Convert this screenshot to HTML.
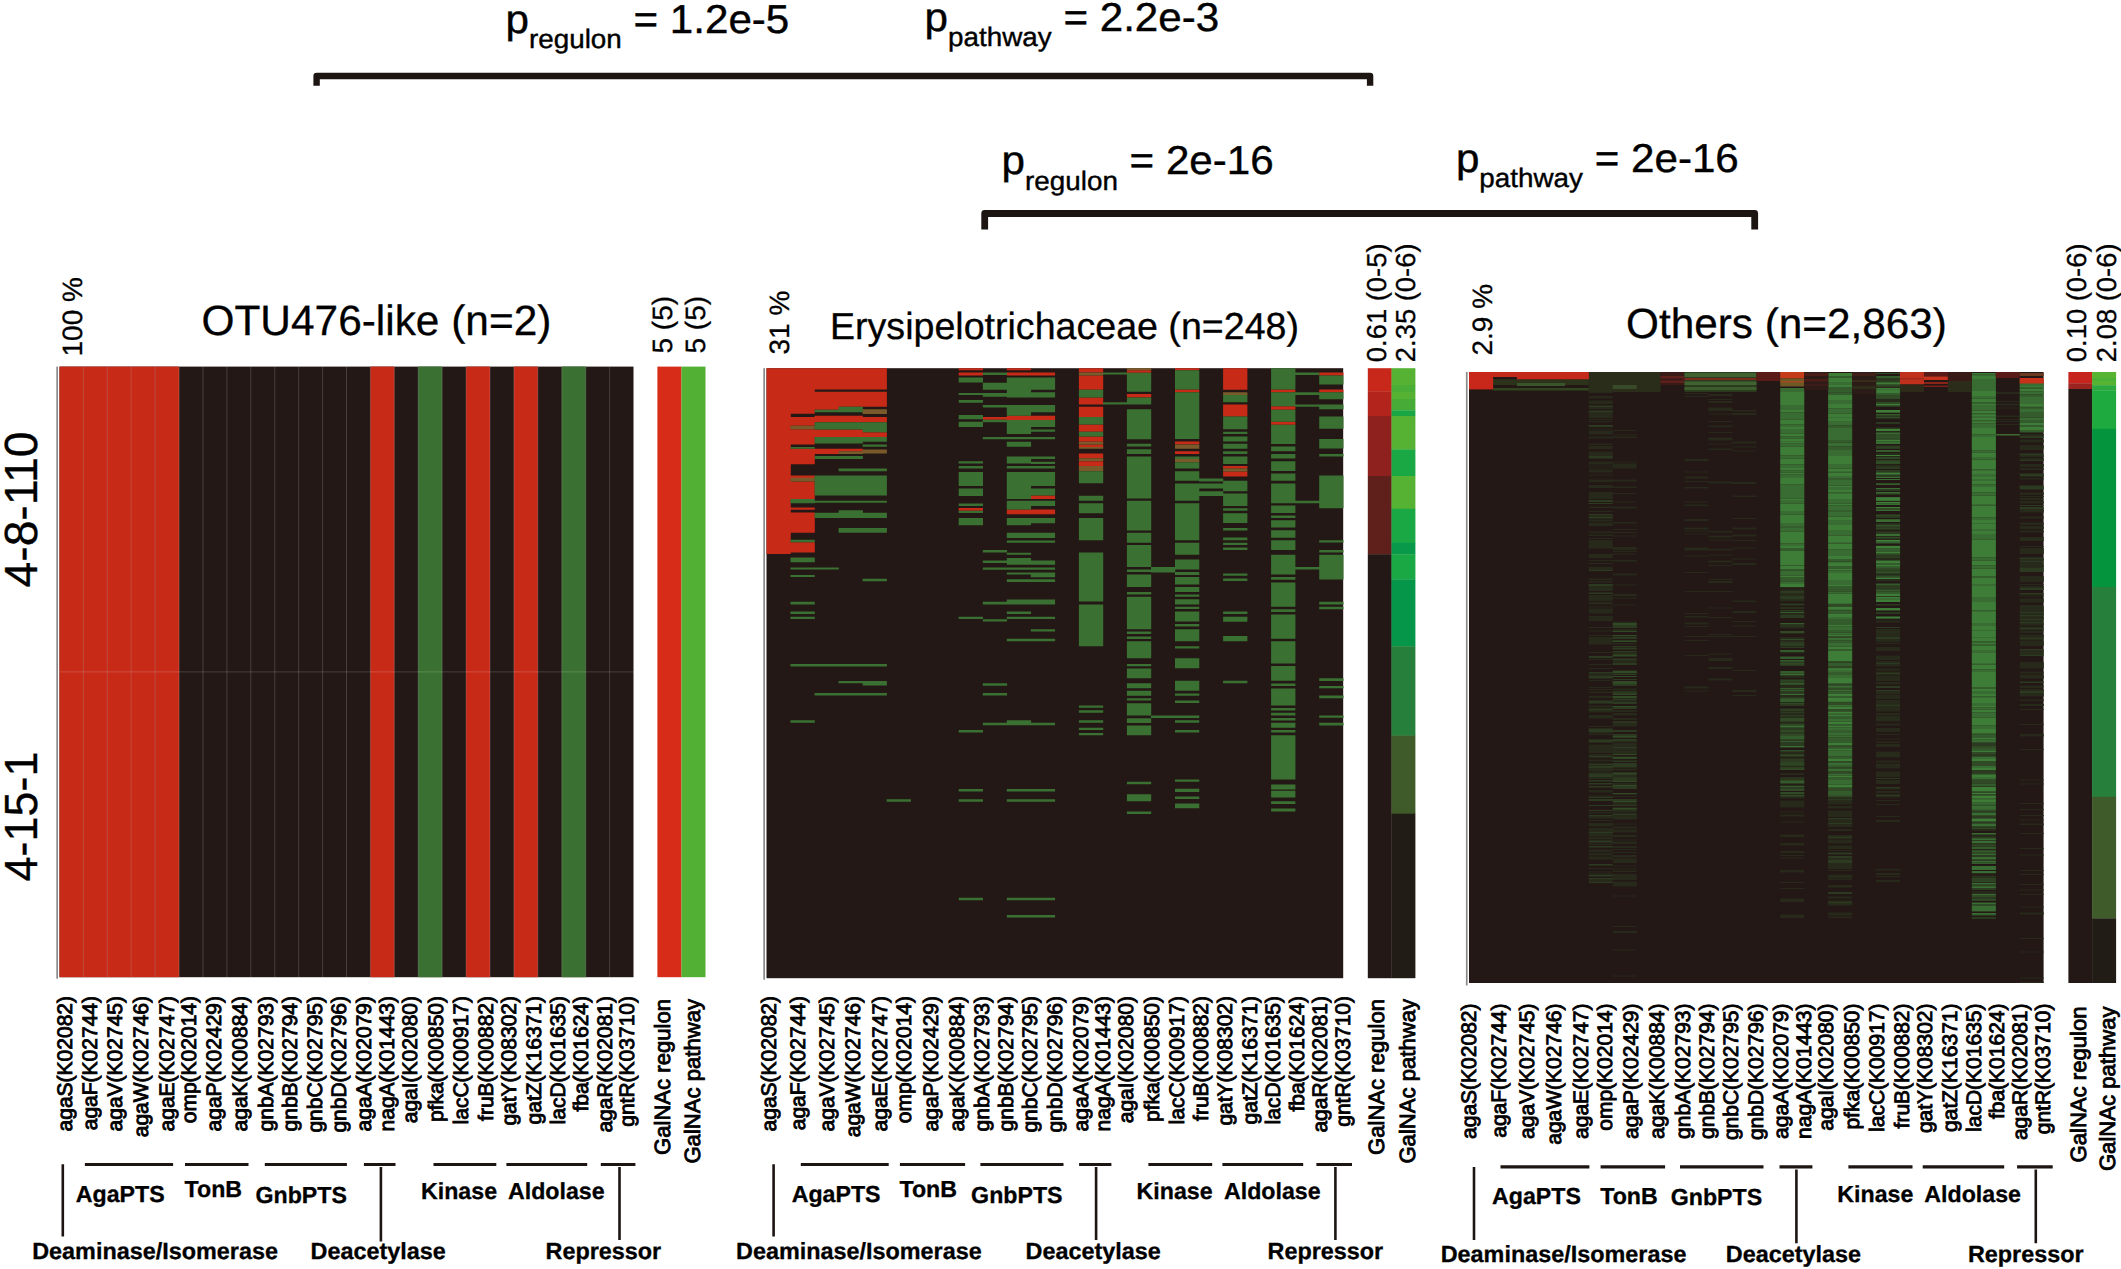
<!DOCTYPE html>
<html lang="en"><head><meta charset="utf-8"><title>GalNAc regulon and pathway heatmaps</title>
<style>
html,body{margin:0;padding:0;background:#fff}
body{width:2121px;height:1269px;overflow:hidden}
svg{display:block}
svg text{font-family:'Liberation Sans', sans-serif;fill:#000;stroke:#000;stroke-width:.3px}
svg .gl text{stroke-width:.85px}
svg text.pv{stroke-width:.4px}
</style></head><body>
<svg width="2121" height="1269" viewBox="0 0 2121 1269" text-rendering="geometricPrecision">
<rect width="2121" height="1269" fill="#fff"/>
<text transform="translate(505.5 32.5) scale(1.046 1)" font-size="40.3" class="pv">p<tspan font-size="26.6" dy="15.6">regulon</tspan><tspan dy="-15.6"> = 1.2e-5</tspan></text>
<text transform="translate(924.6 31.1) scale(1.046 1)" font-size="40.3" class="pv">p<tspan font-size="26.6" dy="15.1">pathway</tspan><tspan dy="-15.1"> = 2.2e-3</tspan></text>
<text transform="translate(1001.6 174.3) scale(1.046 1)" font-size="40.3" class="pv">p<tspan font-size="26.6" dy="15.7">regulon</tspan><tspan dy="-15.7"> = 2e-16</tspan></text>
<text transform="translate(1455.9 171.5) scale(1.046 1)" font-size="40.3" class="pv">p<tspan font-size="26.6" dy="15.1">pathway</tspan><tspan dy="-15.1"> = 2e-16</tspan></text>
<path d="M316.6 85.7V76H1370.1V85.7" fill="none" stroke="#1d1512" stroke-width="6.4" stroke-linejoin="round"/>
<path d="M984.7 229.6V213.5H1754.7V229.6" fill="none" stroke="#1d1512" stroke-width="6.8" stroke-linejoin="round"/>
<text x="201.5" y="335" font-size="42.4">OTU476-like (n=2)</text>
<text x="830" y="339" font-size="37.6">Erysipelotrichaceae (n=248)</text>
<text x="1626" y="337.5" font-size="42.3">Others (n=2,863)</text>
<text transform="translate(81.9 356.5) rotate(-90)" font-size="28">100 %</text>
<text transform="translate(788.6 354.5) rotate(-90)" font-size="28">31 %</text>
<text transform="translate(1491.9 355.5) rotate(-90)" font-size="28">2.9 %</text>
<text transform="translate(671.8 353.5) rotate(-90)" font-size="28">5 (5)</text>
<text transform="translate(704.8 353.5) rotate(-90)" font-size="28">5 (5)</text>
<text transform="translate(1385.7 362.2) rotate(-90)" font-size="27.4">0.61 (0-5)</text>
<text transform="translate(1415.1 362.2) rotate(-90)" font-size="27.4">2.35 (0-6)</text>
<text transform="translate(2086.2 362.2) rotate(-90)" font-size="27.4">0.10 (0-6)</text>
<text transform="translate(2115.6 362.2) rotate(-90)" font-size="27.4">2.08 (0-6)</text>
<text transform="translate(36.8 587.5) rotate(-90)" font-size="46.5" textLength="156" lengthAdjust="spacingAndGlyphs">4-8-110</text>
<text transform="translate(36.8 881.5) rotate(-90)" font-size="46.5" textLength="130" lengthAdjust="spacingAndGlyphs">4-15-1</text>
<rect x="59.5" y="366.6" width="574" height="610.6" fill="#231815"/>
<rect x="59.5" y="366.6" width="24.2" height="610.6" fill="#c82a18"/>
<rect x="83.4" y="366.6" width="24.2" height="610.6" fill="#c82a18"/>
<rect x="107.3" y="366.6" width="24.2" height="610.6" fill="#c82a18"/>
<rect x="131.2" y="366.6" width="24.2" height="610.6" fill="#c82a18"/>
<rect x="155.2" y="366.6" width="23.9" height="610.6" fill="#c82a18"/>
<rect x="370.4" y="366.6" width="23.9" height="610.6" fill="#c82a18"/>
<rect x="418.2" y="366.6" width="23.9" height="610.6" fill="#3a7031"/>
<rect x="466.1" y="366.6" width="23.9" height="610.6" fill="#c82a18"/>
<rect x="513.9" y="366.6" width="23.9" height="610.6" fill="#c82a18"/>
<rect x="561.8" y="366.6" width="23.9" height="610.6" fill="#3a7031"/>
<path d="M83.4 366.6V977.2M107.3 366.6V977.2M131.2 366.6V977.2M155.2 366.6V977.2M179.1 366.6V977.2M203 366.6V977.2M226.9 366.6V977.2M250.8 366.6V977.2M274.8 366.6V977.2M298.7 366.6V977.2M322.6 366.6V977.2M346.5 366.6V977.2M370.4 366.6V977.2M394.3 366.6V977.2M418.2 366.6V977.2M442.2 366.6V977.2M466.1 366.6V977.2M490 366.6V977.2M513.9 366.6V977.2M537.8 366.6V977.2M561.8 366.6V977.2M585.7 366.6V977.2M609.6 366.6V977.2M59.5 671.9H633.5" stroke="#fff" stroke-opacity=".17" stroke-width="1" fill="none"/>
<rect x="56.3" y="366.6" width="1.7" height="612.1" fill="#8a8a8a"/>
<rect x="657.4" y="366.6" width="24.1" height="610.6" fill="#d62c18"/>
<rect x="681.4" y="366.6" width="24.1" height="610.6" fill="#52b034"/>
<rect x="766.5" y="368.2" width="576.7" height="610" fill="#231815"/>
<path d="M766.5 368.2h24.3v185.9h-24.3zM790.5 368.2h24.3v45.5h-24.3zM790.5 417.1h24.3v8.7h-24.3zM790.5 429.3h24.3v15.1h-24.3zM790.5 448.7h24.3v15.6h-24.3zM790.5 475.6h24.3v2.3h-24.3zM790.5 481.6h24.3v17.3h-24.3zM790.5 507.6h24.3v2.1h-24.3zM790.5 512.5h24.3v20.3h-24.3zM790.5 542.3h24.3v10.1h-24.3zM814.6 368.2h24.3v21.2h-24.3zM814.6 391.8h24.3v17.9h-24.3zM814.6 415.7h24.3v6.6h-24.3zM814.6 429.6h24.3v7.3h-24.3zM814.6 448.7h24.3v5.2h-24.3zM838.6 368.2h24.3v21.2h-24.3zM838.6 391.8h24.3v14.9h-24.3zM838.6 415.7h24.3v6.6h-24.3zM838.6 429.6h24.3v7.3h-24.3zM838.6 448.7h24.3v2.6h-24.3zM862.6 368.2h24.3v21.2h-24.3zM862.6 391.8h24.3v14.9h-24.3zM862.6 417.1h24.3v5.2h-24.3zM862.6 432.2h24.3v4.7h-24.3zM958.7 368.2h24.3v2.1h-24.3zM958.7 372.4h24.3v3.1h-24.3zM958.7 508h24.3v2.8h-24.3zM1006.8 368.2h24.3v2.1h-24.3zM1006.8 372.4h24.3v3.1h-24.3zM1006.8 415.7h24.3v4.3h-24.3zM1006.8 509.4h24.3v4.9h-24.3zM1030.8 372.4h24.3v3.1h-24.3zM1030.8 415.7h24.3v4.3h-24.3zM1030.8 495.5h24.3v3.5h-24.3zM1030.8 509.4h24.3v4.9h-24.3zM982.8 417.1h24.3v2.6h-24.3zM1078.9 368.2h24.3v4.2h-24.3zM1078.9 375.5h24.3v14.2h-24.3zM1078.9 397.5h24.3v6.9h-24.3zM1078.9 406.7h24.3v10.4h-24.3zM1078.9 424.4h24.3v7.3h-24.3zM1078.9 436.5h24.3v5.2h-24.3zM1078.9 444.4h24.3v2.6h-24.3zM1078.9 453.5h24.3v4.7h-24.3zM1078.9 461.2h24.3v4.9h-24.3zM1126.9 370.3h24.3v2.4h-24.3zM1126.9 394.1h24.3v3.5h-24.3zM1175 368.2h24.3v2.1h-24.3zM1175 389.4h24.3v2.9h-24.3zM1175 441.4h24.3v2.9h-24.3zM1175 451.3h24.3v2.6h-24.3zM1271.1 389.4h24.3v2.9h-24.3zM1271.1 406.2h24.3v3.5h-24.3zM1271.1 421.8h24.3v2.9h-24.3zM1223.1 368.2h24.3v21.5h-24.3zM1223.1 404.5h24.3v12.1h-24.3zM1223.1 466h24.3v2.6h-24.3zM1223.1 471.6h24.3v4.9h-24.3zM1319.2 372.4h24.3v3.1h-24.3zM1319.2 389.4h24.3v2.9h-24.3z" fill="#c82a18"/>
<path d="M790.5 425.8h24.3v3.5h-24.3zM790.5 477.8h24.3v3.8h-24.3zM838.6 451.3h24.3v2.6h-24.3zM862.6 409.2h24.3v4.9h-24.3zM862.6 449.6h24.3v4h-24.3zM1078.9 372.4h24.3v3.1h-24.3zM1078.9 441.8h24.3v2.6h-24.3zM1078.9 447h24.3v1.7h-24.3zM1078.9 458.2h24.3v2.9h-24.3zM1078.9 466h24.3v5.2h-24.3zM1126.9 368.2h24.3v2.1h-24.3zM1175 444.4h24.3v4.3h-24.3zM1175 459.1h24.3v3.1h-24.3zM1223.1 392.3h24.3v2.6h-24.3zM1223.1 468.6h24.3v2.9h-24.3z" fill="#7a5a2a"/>
<path d="M790.5 447h24.3v1.7h-24.3zM790.5 499h24.3v4.3h-24.3zM790.5 539.7h24.3v2.6h-24.3zM790.5 557.6h24.3v4.7h-24.3zM790.5 567.4h24.3v2.1h-24.3zM790.5 574.9h24.3v2.1h-24.3zM790.5 601.8h24.3v2.6h-24.3zM790.5 611.5h24.3v2.4h-24.3zM790.5 616.7h24.3v2.4h-24.3zM790.5 663.9h24.3v2.6h-24.3zM790.5 720.2h24.3v2.6h-24.3zM814.6 409.7h24.3v2.6h-24.3zM814.6 422.3h24.3v7.3h-24.3zM814.6 436.9h24.3v6.6h-24.3zM814.6 456.1h24.3v2.9h-24.3zM814.6 475.6h24.3v19.9h-24.3zM814.6 500.7h24.3v2.1h-24.3zM814.6 512.8h24.3v5.2h-24.3zM814.6 567.4h24.3v2.1h-24.3zM814.6 663.9h24.3v2.6h-24.3zM814.6 693h24.3v2.4h-24.3zM838.6 406.7h24.3v5.5h-24.3zM838.6 422.3h24.3v7.3h-24.3zM838.6 436.9h24.3v6.6h-24.3zM838.6 456.1h24.3v2.9h-24.3zM838.6 468.6h24.3v2.6h-24.3zM838.6 475.6h24.3v19.9h-24.3zM838.6 500.7h24.3v2.1h-24.3zM838.6 510.2h24.3v7.8h-24.3zM838.6 528.1h24.3v4.7h-24.3zM838.6 663.9h24.3v2.6h-24.3zM838.6 680.9h24.3v2.4h-24.3zM838.6 693h24.3v2.4h-24.3zM862.6 422.3h24.3v9.9h-24.3zM862.6 436.9h24.3v4.9h-24.3zM862.6 444.4h24.3v2.3h-24.3zM862.6 468.6h24.3v2.6h-24.3zM862.6 475.6h24.3v19.9h-24.3zM862.6 500.7h24.3v2.1h-24.3zM862.6 512.8h24.3v5.2h-24.3zM862.6 528.1h24.3v4.7h-24.3zM862.6 578.7h24.3v2.6h-24.3zM862.6 663.9h24.3v2.6h-24.3zM862.6 680.9h24.3v4.7h-24.3zM862.6 693h24.3v2.4h-24.3zM958.7 789h24.3v2.5h-24.3zM958.7 799.2h24.3v2.5h-24.3zM958.7 897.8h24.3v2.5h-24.3zM958.7 377.6h24.3v4.9h-24.3zM958.7 392.9h24.3v2.1h-24.3zM958.7 400.1h24.3v2.6h-24.3zM958.7 414.9h24.3v4.3h-24.3zM958.7 421.8h24.3v5.2h-24.3zM958.7 461.2h24.3v2.3h-24.3zM958.7 466h24.3v2.6h-24.3zM958.7 472.1h24.3v13.9h-24.3zM958.7 488.6h24.3v7.3h-24.3zM958.7 503.6h24.3v2.3h-24.3zM958.7 510.8h24.3v2.1h-24.3zM958.7 518h24.3v7.3h-24.3zM958.7 616.7h24.3v2.4h-24.3zM958.7 730.1h24.3v2.4h-24.3zM1006.8 789h24.3v2.5h-24.3zM1006.8 799.2h24.3v2.5h-24.3zM1006.8 897.8h24.3v2.5h-24.3zM1006.8 915h24.3v2.5h-24.3zM1006.8 377.6h24.3v19.9h-24.3zM1006.8 405h24.3v10.7h-24.3zM1006.8 420.1h24.3v13.9h-24.3zM1006.8 436.9h24.3v2.3h-24.3zM1006.8 441.8h24.3v4.9h-24.3zM1006.8 456.5h24.3v6.9h-24.3zM1006.8 466h24.3v2.6h-24.3zM1006.8 472.1h24.3v26.9h-24.3zM1006.8 500.7h24.3v8.7h-24.3zM1006.8 518h24.3v7.3h-24.3zM1006.8 532.8h24.3v5.2h-24.3zM1006.8 540.6h24.3v2.1h-24.3zM1006.8 552.7h24.3v2.1h-24.3zM1006.8 557.9h24.3v6.9h-24.3zM1006.8 567.4h24.3v2.3h-24.3zM1006.8 572.5h24.3v2.1h-24.3zM1006.8 579.3h24.3v2.6h-24.3zM1006.8 599.4h24.3v5h-24.3zM1006.8 611.5h24.3v2.4h-24.3zM1006.8 616.7h24.3v2.4h-24.3zM1006.8 638.7h24.3v2.6h-24.3zM1006.8 720.2h24.3v5h-24.3zM1030.8 789h24.3v2.5h-24.3zM1030.8 799.2h24.3v2.5h-24.3zM1030.8 897.8h24.3v2.5h-24.3zM1030.8 915h24.3v2.5h-24.3zM1030.8 377.6h24.3v12.1h-24.3zM1030.8 392.3h24.3v5.2h-24.3zM1030.8 405h24.3v7.3h-24.3zM1030.8 420.1h24.3v6.9h-24.3zM1030.8 429.6h24.3v2.1h-24.3zM1030.8 436.9h24.3v2.3h-24.3zM1030.8 456.5h24.3v2.6h-24.3zM1030.8 461.7h24.3v2.3h-24.3zM1030.8 466h24.3v2.6h-24.3zM1030.8 472.1h24.3v13.9h-24.3zM1030.8 488.6h24.3v6.9h-24.3zM1030.8 500.7h24.3v5.2h-24.3zM1030.8 518h24.3v5.2h-24.3zM1030.8 532.8h24.3v5.2h-24.3zM1030.8 540.6h24.3v2.1h-24.3zM1030.8 560.5h24.3v4.3h-24.3zM1030.8 567.4h24.3v2.3h-24.3zM1030.8 572.5h24.3v4.7h-24.3zM1030.8 579.3h24.3v2.6h-24.3zM1030.8 599.4h24.3v5h-24.3zM1030.8 616.7h24.3v2.4h-24.3zM1030.8 629.2h24.3v2.3h-24.3zM1030.8 638.7h24.3v2.6h-24.3zM1030.8 722.8h24.3v2.4h-24.3zM886.6 799.2h24.3v2.5h-24.3zM982.8 372.4h24.3v2.6h-24.3zM982.8 382.8h24.3v6.9h-24.3zM982.8 392.9h24.3v3.8h-24.3zM982.8 405h24.3v2.4h-24.3zM982.8 419.7h24.3v2.6h-24.3zM982.8 436.9h24.3v2.3h-24.3zM982.8 550.1h24.3v2.3h-24.3zM982.8 560.5h24.3v2.6h-24.3zM982.8 567.4h24.3v2.3h-24.3zM982.8 601.8h24.3v2.6h-24.3zM982.8 619.2h24.3v2.3h-24.3zM982.8 683.3h24.3v2.4h-24.3zM982.8 693h24.3v2.4h-24.3zM982.8 722.8h24.3v2.4h-24.3zM1078.9 389.7h24.3v7.8h-24.3zM1078.9 417.1h24.3v7.3h-24.3zM1078.9 431.7h24.3v4.9h-24.3zM1078.9 471.2h24.3v12.1h-24.3zM1078.9 495.8h24.3v4.9h-24.3zM1078.9 503.3h24.3v9.9h-24.3zM1078.9 518h24.3v22.2h-24.3zM1078.9 552.4h24.3v29.6h-24.3zM1078.9 572h24.3v29.5h-24.3zM1078.9 604.4h24.3v41.8h-24.3zM1078.9 705.5h24.3v2.3h-24.3zM1078.9 710.3h24.3v2.4h-24.3zM1078.9 720.2h24.3v2.6h-24.3zM1078.9 727.7h24.3v2.4h-24.3zM1078.9 732.9h24.3v2.4h-24.3zM1102.9 372.4h24.3v2.1h-24.3zM1102.9 402.2h24.3v2.3h-24.3zM1126.9 372.7h24.3v19.1h-24.3zM1126.9 397.5h24.3v6.9h-24.3zM1126.9 409.2h24.3v30h-24.3zM1126.9 443.8h24.3v2.8h-24.3zM1126.9 449.2h24.3v4.7h-24.3zM1126.9 456.5h24.3v42h-24.3zM1126.9 500.7h24.3v29.8h-24.3zM1126.9 532.8h24.3v9.9h-24.3zM1126.9 544.9h24.3v22.2h-24.3zM1126.9 569.5h24.3v2.6h-24.3zM1126.9 574.7h24.3v7.3h-24.3zM1126.9 574.6h24.3v12.5h-24.3zM1126.9 591.9h24.3v2.6h-24.3zM1126.9 596.8h24.3v32.4h-24.3zM1126.9 631.5h24.3v2.4h-24.3zM1126.9 636.5h24.3v2.4h-24.3zM1126.9 641.3h24.3v17h-24.3zM1126.9 663.9h24.3v2.3h-24.3zM1126.9 668.6h24.3v9.7h-24.3zM1126.9 683.3h24.3v4.9h-24.3zM1126.9 690.8h24.3v4.9h-24.3zM1126.9 698.2h24.3v2.4h-24.3zM1126.9 703.2h24.3v12.3h-24.3zM1126.9 718.2h24.3v4.7h-24.3zM1126.9 725.4h24.3v9.9h-24.3zM1126.9 781.8h24.3v2.4h-24.3zM1126.9 794.2h24.3v7.1h-24.3zM1126.9 811.5h24.3v2.4h-24.3zM1151 567.1h24.3v5.5h-24.3zM1151 715.6h24.3v2.4h-24.3zM1175 370.3h24.3v19.1h-24.3zM1175 392.3h24.3v46.8h-24.3zM1175 456.5h24.3v2.6h-24.3zM1175 462.2h24.3v6.4h-24.3zM1175 471.2h24.3v9.5h-24.3zM1175 483.4h24.3v17.3h-24.3zM1175 503.3h24.3v36.9h-24.3zM1175 542.7h24.3v12.1h-24.3zM1175 559.6h24.3v9.9h-24.3zM1175 572.1h24.3v2.6h-24.3zM1175 577h24.3v5h-24.3zM1175 572.5h24.3v2.4h-24.3zM1175 577.2h24.3v7.3h-24.3zM1175 587.1h24.3v4.9h-24.3zM1175 594.5h24.3v2.3h-24.3zM1175 599.2h24.3v5.2h-24.3zM1175 606.7h24.3v2.4h-24.3zM1175 611.5h24.3v10.1h-24.3zM1175 624h24.3v2.4h-24.3zM1175 629.2h24.3v12.1h-24.3zM1175 646.2h24.3v2.4h-24.3zM1175 658.3h24.3v9.9h-24.3zM1175 680.7h24.3v10.1h-24.3zM1175 693.4h24.3v2.3h-24.3zM1175 700.6h24.3v2.3h-24.3zM1175 715.6h24.3v2.4h-24.3zM1175 720.2h24.3v2.6h-24.3zM1175 730.1h24.3v2.4h-24.3zM1175 779.5h24.3v2.3h-24.3zM1175 788.7h24.3v3.3h-24.3zM1175 796.5h24.3v2.4h-24.3zM1175 803.6h24.3v4.7h-24.3zM1271.1 801.3h24.3v2.7h-24.3zM1271.1 808.4h24.3v3.2h-24.3zM1271.1 368.2h24.3v21.2h-24.3zM1271.1 392.3h24.3v13.9h-24.3zM1271.1 409.7h24.3v12.1h-24.3zM1271.1 424.8h24.3v19.1h-24.3zM1271.1 446.4h24.3v4.9h-24.3zM1271.1 453.9h24.3v4.7h-24.3zM1271.1 461.2h24.3v9.7h-24.3zM1271.1 473.5h24.3v7.3h-24.3zM1271.1 483.4h24.3v19.9h-24.3zM1271.1 505.6h24.3v7.3h-24.3zM1271.1 515.4h24.3v2.6h-24.3zM1271.1 520.3h24.3v7.3h-24.3zM1271.1 530.2h24.3v7.5h-24.3zM1271.1 540.2h24.3v9.9h-24.3zM1271.1 554.8h24.3v19.6h-24.3zM1271.1 577h24.3v2.6h-24.3zM1271.1 572h24.3v2.6h-24.3zM1271.1 577.2h24.3v2.6h-24.3zM1271.1 582.4h24.3v24.3h-24.3zM1271.1 609.3h24.3v2.6h-24.3zM1271.1 614.5h24.3v24.3h-24.3zM1271.1 641.3h24.3v22.2h-24.3zM1271.1 666.1h24.3v14.7h-24.3zM1271.1 683.5h24.3v2.4h-24.3zM1271.1 688.5h24.3v17h-24.3zM1271.1 708.1h24.3v2.3h-24.3zM1271.1 712.8h24.3v2.6h-24.3zM1271.1 718h24.3v2.4h-24.3zM1271.1 722.8h24.3v4.9h-24.3zM1271.1 730.1h24.3v2.4h-24.3zM1271.1 735.3h24.3v44.2h-24.3zM1271.1 784.4h24.3v5.2h-24.3zM1271.1 790.8h24.3v6.6h-24.3zM1199 478.5h24.3v3.1h-24.3zM1199 483.4h24.3v5.2h-24.3zM1199 491.2h24.3v4.7h-24.3zM1223.1 394.9h24.3v7.3h-24.3zM1223.1 416.6h24.3v12.7h-24.3zM1223.1 431.7h24.3v2.4h-24.3zM1223.1 436.5h24.3v4.9h-24.3zM1223.1 443.8h24.3v4.9h-24.3zM1223.1 451.3h24.3v2.6h-24.3zM1223.1 456.5h24.3v7.5h-24.3zM1223.1 480.8h24.3v10.4h-24.3zM1223.1 493.4h24.3v12.5h-24.3zM1223.1 508.2h24.3v2.6h-24.3zM1223.1 513.2h24.3v9.7h-24.3zM1223.1 528.1h24.3v2.4h-24.3zM1223.1 537.6h24.3v2.6h-24.3zM1223.1 542.7h24.3v2.4h-24.3zM1223.1 547.5h24.3v2.6h-24.3zM1223.1 573.4h24.3v2.4h-24.3zM1223.1 578.6h24.3v2.4h-24.3zM1223.1 611.5h24.3v2.4h-24.3zM1223.1 616.7h24.3v5h-24.3zM1223.1 636.1h24.3v5.2h-24.3zM1223.1 680.7h24.3v2.6h-24.3zM1295.1 372.4h24.3v2.6h-24.3zM1295.1 392.3h24.3v2.6h-24.3zM1295.1 404.5h24.3v2.3h-24.3zM1295.1 500.7h24.3v2.6h-24.3zM1295.1 567.1h24.3v2.4h-24.3zM1319.2 375.5h24.3v9h-24.3zM1319.2 392.3h24.3v6.9h-24.3zM1319.2 404.5h24.3v4.7h-24.3zM1319.2 416.6h24.3v12.1h-24.3zM1319.2 439.1h24.3v9.5h-24.3zM1319.2 453.9h24.3v2.6h-24.3zM1319.2 475.6h24.3v32.6h-24.3zM1319.2 540.2h24.3v2.4h-24.3zM1319.2 550.1h24.3v2.3h-24.3zM1319.2 554.8h24.3v24.8h-24.3zM1319.2 572h24.3v7.5h-24.3zM1319.2 601.8h24.3v2.6h-24.3zM1319.2 606.7h24.3v2.6h-24.3zM1319.2 678.3h24.3v2.6h-24.3zM1319.2 685.9h24.3v2.3h-24.3zM1319.2 695.6h24.3v2.6h-24.3zM1319.2 715.4h24.3v2.3h-24.3zM1319.2 722.8h24.3v2.6h-24.3z" fill="#3a7031"/>
<rect x="763.3" y="368.2" width="1.7" height="611.5" fill="#8a8a8a"/>
<rect x="1367.8" y="368.2" width="24" height="23.6" fill="#c8281a"/>
<rect x="1367.8" y="391.5" width="24" height="24.8" fill="#b2241c"/>
<rect x="1367.8" y="416" width="24" height="60.3" fill="#8e211d"/>
<rect x="1367.8" y="476" width="24" height="78.5" fill="#5f1f1a"/>
<rect x="1367.8" y="554.2" width="24" height="424" fill="#231815"/>
<rect x="1391.5" y="368.2" width="23.9" height="17.1" fill="#55b233"/>
<rect x="1391.5" y="385" width="23.9" height="7.3" fill="#49ad36"/>
<rect x="1391.5" y="392" width="23.9" height="7.3" fill="#55b233"/>
<rect x="1391.5" y="399" width="23.9" height="11.7" fill="#47ac37"/>
<rect x="1391.5" y="410.4" width="23.9" height="5.9" fill="#1ba645"/>
<rect x="1391.5" y="416" width="23.9" height="33.8" fill="#55b233"/>
<rect x="1391.5" y="449.5" width="23.9" height="26.8" fill="#1aa845"/>
<rect x="1391.5" y="476" width="23.9" height="33.1" fill="#55b233"/>
<rect x="1391.5" y="508.8" width="23.9" height="34.3" fill="#1aa845"/>
<rect x="1391.5" y="542.8" width="23.9" height="11.7" fill="#08994a"/>
<rect x="1391.5" y="554.2" width="23.9" height="25.5" fill="#1aa845"/>
<rect x="1391.5" y="579.4" width="23.9" height="67.1" fill="#06964a"/>
<rect x="1391.5" y="646.2" width="23.9" height="89.7" fill="#26803c"/>
<rect x="1391.5" y="735.6" width="23.9" height="78.4" fill="#3e5b29"/>
<rect x="1391.5" y="813.7" width="23.9" height="164.5" fill="#221c16"/>
<rect x="1469" y="372" width="574.6" height="611" fill="#231815"/>
<path d="M1588.7 392h24.1v1h-24.1zM1588.7 396h24.1v1.5h-24.1zM1588.7 397.5h24.1v1h-24.1zM1588.7 400.5h24.1v1.5h-24.1zM1588.7 402h24.1v1h-24.1zM1588.7 403h24.1v1h-24.1zM1588.7 405h24.1v1h-24.1zM1588.7 407h24.1v1h-24.1zM1588.7 408h24.1v1h-24.1zM1588.7 412.5h24.1v1h-24.1zM1588.7 413.5h24.1v1h-24.1zM1588.7 414.5h24.1v1h-24.1zM1588.7 415.5h24.1v1h-24.1zM1588.7 419h24.1v1h-24.1zM1588.7 421h24.1v1h-24.1zM1588.7 428.5h24.1v1h-24.1zM1588.7 430.5h24.1v2h-24.1zM1588.7 432.5h24.1v2h-24.1zM1588.7 436.5h24.1v2h-24.1zM1588.7 443.5h24.1v1.5h-24.1zM1588.7 446h24.1v1h-24.1zM1588.7 447h24.1v1h-24.1zM1588.7 448h24.1v1h-24.1zM1588.7 451.5h24.1v1.5h-24.1zM1588.7 453h24.1v1h-24.1zM1588.7 454h24.1v2h-24.1zM1588.7 461.5h24.1v2h-24.1zM1588.7 463.5h24.1v1h-24.1zM1588.7 465.5h24.1v1h-24.1zM1588.7 467.5h24.1v1h-24.1zM1588.7 469.5h24.1v1h-24.1zM1588.7 470.5h24.1v2h-24.1zM1588.7 474.5h24.1v1h-24.1zM1588.7 479.5h24.1v1h-24.1zM1588.7 480.5h24.1v1.5h-24.1zM1588.7 485h24.1v1h-24.1zM1588.7 486h24.1v2h-24.1zM1588.7 492h24.1v1h-24.1zM1588.7 493h24.1v2h-24.1zM1588.7 495h24.1v1h-24.1zM1588.7 496h24.1v1h-24.1zM1588.7 497h24.1v1h-24.1zM1588.7 498h24.1v1h-24.1zM1588.7 506.5h24.1v1.5h-24.1zM1588.7 511h24.1v1h-24.1zM1588.7 515h24.1v1.5h-24.1zM1588.7 519.5h24.1v2h-24.1zM1588.7 522.5h24.1v1.5h-24.1zM1588.7 524h24.1v1h-24.1zM1588.7 525h24.1v1h-24.1zM1588.7 531.5h24.1v1.5h-24.1zM1588.7 534.5h24.1v1.5h-24.1zM1588.7 538h24.1v1h-24.1zM1588.7 540h24.1v1h-24.1zM1588.7 541h24.1v2h-24.1zM1588.7 543h24.1v1h-24.1zM1588.7 544h24.1v1h-24.1zM1588.7 545h24.1v1h-24.1zM1588.7 546h24.1v1h-24.1zM1588.7 547h24.1v1.5h-24.1zM1588.7 554h24.1v2h-24.1zM1588.7 556h24.1v2h-24.1zM1588.7 560h24.1v1h-24.1zM1588.7 563h24.1v1h-24.1zM1588.7 567h24.1v1h-24.1zM1588.7 568h24.1v2h-24.1zM1588.7 578.5h24.1v1.5h-24.1zM1588.7 581h24.1v1.5h-24.1zM1588.7 586h24.1v1.5h-24.1zM1588.7 587.5h24.1v2h-24.1zM1588.7 592h24.1v1h-24.1zM1588.7 595h24.1v1.5h-24.1zM1588.7 596.5h24.1v1.5h-24.1zM1588.7 598h24.1v1.5h-24.1zM1588.7 599.5h24.1v1.5h-24.1zM1588.7 602h24.1v1h-24.1zM1588.7 603h24.1v1.5h-24.1zM1588.7 606.5h24.1v1h-24.1zM1588.7 608.5h24.1v1h-24.1zM1588.7 609.5h24.1v1h-24.1zM1588.7 610.5h24.1v2h-24.1zM1588.7 612.5h24.1v1h-24.1zM1588.7 616h24.1v1.5h-24.1zM1588.7 617.5h24.1v1.5h-24.1zM1588.7 619h24.1v1h-24.1zM1588.7 620h24.1v1h-24.1zM1588.7 627h24.1v1h-24.1zM1588.7 630.5h24.1v1h-24.1zM1588.7 635h24.1v1h-24.1zM1588.7 637h24.1v1.5h-24.1zM1588.7 638.5h24.1v1h-24.1zM1588.7 639.5h24.1v1h-24.1zM1588.7 640.5h24.1v1h-24.1zM1588.7 641.5h24.1v1h-24.1zM1588.7 642.5h24.1v1h-24.1zM1588.7 643.5h24.1v1h-24.1zM1588.7 652h24.1v1h-24.1zM1588.7 659h24.1v1h-24.1zM1588.7 664h24.1v1h-24.1zM1588.7 668h24.1v1h-24.1zM1588.7 673h24.1v2h-24.1zM1588.7 675h24.1v1h-24.1zM1588.7 678h24.1v1h-24.1zM1588.7 680h24.1v1h-24.1zM1588.7 687h24.1v1h-24.1zM1588.7 689h24.1v1h-24.1zM1588.7 691.5h24.1v1.5h-24.1zM1588.7 696h24.1v2h-24.1zM1588.7 705.5h24.1v2h-24.1zM1588.7 710.5h24.1v1h-24.1zM1588.7 711.5h24.1v1h-24.1zM1588.7 716.5h24.1v2h-24.1zM1588.7 726h24.1v1h-24.1zM1588.7 733.5h24.1v1.5h-24.1zM1588.7 744.5h24.1v1.5h-24.1zM1588.7 746h24.1v1h-24.1zM1588.7 747h24.1v1h-24.1zM1588.7 748h24.1v1h-24.1zM1588.7 749h24.1v2h-24.1zM1588.7 751h24.1v2h-24.1zM1588.7 754h24.1v2h-24.1zM1588.7 759.5h24.1v2h-24.1zM1588.7 765h24.1v1h-24.1zM1588.7 768h24.1v1.5h-24.1zM1588.7 771.5h24.1v1h-24.1zM1588.7 772.5h24.1v1h-24.1zM1588.7 777h24.1v2h-24.1zM1588.7 784h24.1v1h-24.1zM1588.7 790h24.1v1h-24.1zM1588.7 791h24.1v1.5h-24.1zM1588.7 795.5h24.1v1.5h-24.1zM1588.7 812h24.1v1.5h-24.1zM1588.7 816.5h24.1v2h-24.1zM1588.7 820h24.1v1h-24.1zM1588.7 824.5h24.1v2h-24.1zM1588.7 828h24.1v2h-24.1zM1588.7 830h24.1v2h-24.1zM1588.7 836.5h24.1v1h-24.1zM1588.7 837.5h24.1v2h-24.1zM1588.7 843.5h24.1v1.5h-24.1zM1588.7 849.5h24.1v1h-24.1zM1588.7 850.5h24.1v1.5h-24.1zM1588.7 853h24.1v1h-24.1zM1588.7 854h24.1v1.5h-24.1zM1588.7 856.5h24.1v2h-24.1zM1588.7 858.5h24.1v1h-24.1zM1588.7 865h24.1v1h-24.1zM1588.7 868h24.1v1h-24.1zM1588.7 871.5h24.1v1h-24.1zM1588.7 873.5h24.1v1.5h-24.1zM1588.7 879.5h24.1v1h-24.1zM1588.7 880.5h24.1v1.5h-24.1zM1612.7 430h24.1v1h-24.1zM1612.7 434.5h24.1v1h-24.1zM1612.7 436.5h24.1v1.5h-24.1zM1612.7 461.5h24.1v1h-24.1zM1612.7 463.5h24.1v1.5h-24.1zM1612.7 465h24.1v1h-24.1zM1612.7 466h24.1v1.5h-24.1zM1612.7 467.5h24.1v1h-24.1zM1612.7 479.5h24.1v1h-24.1zM1612.7 480.5h24.1v1h-24.1zM1612.7 486.5h24.1v1.5h-24.1zM1612.7 493h24.1v1h-24.1zM1612.7 501.5h24.1v1h-24.1zM1612.7 506.5h24.1v2h-24.1zM1612.7 522h24.1v1.5h-24.1zM1612.7 529h24.1v1h-24.1zM1612.7 532h24.1v1h-24.1zM1612.7 535.5h24.1v1h-24.1zM1612.7 547h24.1v1h-24.1zM1612.7 548h24.1v2h-24.1zM1612.7 551h24.1v1h-24.1zM1612.7 553.5h24.1v1h-24.1zM1612.7 560h24.1v1.5h-24.1zM1612.7 573.5h24.1v2h-24.1zM1612.7 584.5h24.1v1h-24.1zM1612.7 594h24.1v2h-24.1zM1612.7 597.5h24.1v1h-24.1zM1612.7 604.5h24.1v1h-24.1zM1612.7 621.5h24.1v1.5h-24.1zM1612.7 629h24.1v2h-24.1zM1612.7 636h24.1v1h-24.1zM1612.7 643h24.1v1.5h-24.1zM1612.7 647h24.1v1h-24.1zM1612.7 649h24.1v1h-24.1zM1612.7 652h24.1v1.5h-24.1zM1612.7 660.5h24.1v1h-24.1zM1612.7 661.5h24.1v1.5h-24.1zM1612.7 670h24.1v1h-24.1zM1612.7 673h24.1v1h-24.1zM1612.7 688.5h24.1v2h-24.1zM1612.7 698h24.1v1h-24.1zM1612.7 700h24.1v2h-24.1zM1612.7 713h24.1v1h-24.1zM1612.7 714h24.1v1.5h-24.1zM1612.7 725.5h24.1v1h-24.1zM1612.7 741.5h24.1v1h-24.1zM1612.7 744.5h24.1v1h-24.1zM1612.7 745.5h24.1v1.5h-24.1zM1612.7 748.5h24.1v2h-24.1zM1612.7 750.5h24.1v1h-24.1zM1612.7 752.5h24.1v1.5h-24.1zM1612.7 756h24.1v1h-24.1zM1612.7 768.5h24.1v1h-24.1zM1612.7 769.5h24.1v1h-24.1zM1612.7 775.5h24.1v2h-24.1zM1612.7 783h24.1v1h-24.1zM1612.7 784h24.1v1h-24.1zM1612.7 794h24.1v1h-24.1zM1612.7 796h24.1v1h-24.1zM1612.7 802h24.1v1h-24.1zM1612.7 803h24.1v2h-24.1zM1612.7 807h24.1v1h-24.1zM1612.7 810.5h24.1v2h-24.1zM1612.7 815h24.1v1h-24.1zM1612.7 816h24.1v1.5h-24.1zM1612.7 818.5h24.1v1h-24.1zM1612.7 823.5h24.1v1h-24.1zM1612.7 826.5h24.1v1h-24.1zM1612.7 827.5h24.1v1h-24.1zM1612.7 829.5h24.1v1h-24.1zM1612.7 830.5h24.1v2h-24.1zM1612.7 839.5h24.1v1h-24.1zM1612.7 841.5h24.1v1.5h-24.1zM1612.7 843h24.1v1h-24.1zM1612.7 846h24.1v1h-24.1zM1612.7 847h24.1v1h-24.1zM1612.7 849h24.1v1h-24.1zM1612.7 852h24.1v1h-24.1zM1612.7 855h24.1v1.5h-24.1zM1612.7 856.5h24.1v1h-24.1zM1612.7 858.5h24.1v2h-24.1zM1612.7 860.5h24.1v1h-24.1zM1612.7 861.5h24.1v1.5h-24.1zM1612.7 865.5h24.1v1h-24.1zM1612.7 868.5h24.1v1h-24.1zM1612.7 870.5h24.1v1.5h-24.1zM1612.7 874h24.1v1h-24.1zM1612.7 875h24.1v1.5h-24.1zM1612.7 876.5h24.1v2h-24.1zM1612.7 878.5h24.1v1.5h-24.1zM1612.7 881.5h24.1v2h-24.1zM1612.7 883.5h24.1v2h-24.1zM1612.7 885.5h24.1v1h-24.1zM1612.7 895.5h24.1v1h-24.1zM1612.7 926h24.1v1h-24.1zM1612.7 931h24.1v1h-24.1zM1612.7 932h24.1v1h-24.1zM1612.7 949.5h24.1v1h-24.1zM1612.7 975.5h24.1v1h-24.1zM1684.5 393h24.1v1h-24.1zM1684.5 396h24.1v1h-24.1zM1684.5 459h24.1v2h-24.1zM1684.5 471.5h24.1v1h-24.1zM1684.5 476.5h24.1v2h-24.1zM1684.5 481h24.1v1h-24.1zM1684.5 487h24.1v1.5h-24.1zM1684.5 501.5h24.1v1h-24.1zM1684.5 504.5h24.1v1.5h-24.1zM1684.5 519h24.1v2h-24.1zM1684.5 527.5h24.1v2h-24.1zM1684.5 530.5h24.1v1h-24.1zM1684.5 533.5h24.1v1h-24.1zM1684.5 547.5h24.1v1.5h-24.1zM1684.5 549h24.1v1.5h-24.1zM1684.5 555.5h24.1v1h-24.1zM1684.5 572h24.1v1h-24.1zM1684.5 591h24.1v1h-24.1zM1684.5 613h24.1v1h-24.1zM1684.5 616h24.1v1.5h-24.1zM1684.5 622.5h24.1v2h-24.1zM1684.5 626h24.1v1h-24.1zM1684.5 636h24.1v1h-24.1zM1684.5 640h24.1v1h-24.1zM1684.5 655h24.1v1h-24.1zM1684.5 686.5h24.1v2h-24.1zM1684.5 690.5h24.1v1h-24.1zM1708.4 394h24.1v2h-24.1zM1708.4 399h24.1v1h-24.1zM1708.4 401h24.1v2h-24.1zM1708.4 407.5h24.1v1.5h-24.1zM1708.4 409h24.1v2h-24.1zM1708.4 413.5h24.1v1h-24.1zM1708.4 421h24.1v1h-24.1zM1708.4 425.5h24.1v1.5h-24.1zM1708.4 432h24.1v1h-24.1zM1708.4 437.5h24.1v2h-24.1zM1708.4 439.5h24.1v1h-24.1zM1708.4 443.5h24.1v1h-24.1zM1708.4 448.5h24.1v1.5h-24.1zM1708.4 481.5h24.1v2h-24.1zM1708.4 531h24.1v1.5h-24.1zM1708.4 535.5h24.1v2h-24.1zM1708.4 539.5h24.1v1h-24.1zM1708.4 549h24.1v1.5h-24.1zM1708.4 554.5h24.1v1h-24.1zM1708.4 560.5h24.1v2h-24.1zM1708.4 565h24.1v1h-24.1zM1708.4 579h24.1v1h-24.1zM1708.4 581h24.1v2h-24.1zM1708.4 591h24.1v1h-24.1zM1708.4 607.5h24.1v1h-24.1zM1708.4 617h24.1v1h-24.1zM1708.4 634h24.1v1h-24.1zM1708.4 636h24.1v1h-24.1zM1708.4 653.5h24.1v1h-24.1zM1708.4 658h24.1v1.5h-24.1zM1708.4 659.5h24.1v1.5h-24.1zM1708.4 667h24.1v2h-24.1zM1708.4 678.5h24.1v2h-24.1zM1732.4 410h24.1v1.5h-24.1zM1732.4 413h24.1v2h-24.1zM1732.4 441.5h24.1v2h-24.1zM1732.4 446.5h24.1v1h-24.1zM1732.4 450.5h24.1v1h-24.1zM1732.4 482h24.1v2h-24.1zM1732.4 495.5h24.1v1.5h-24.1zM1732.4 518h24.1v1h-24.1zM1732.4 527.5h24.1v2h-24.1zM1732.4 534.5h24.1v2h-24.1zM1732.4 540h24.1v1h-24.1zM1732.4 547.5h24.1v1h-24.1zM1732.4 558.5h24.1v1h-24.1zM1732.4 563h24.1v2h-24.1zM1732.4 600.5h24.1v1.5h-24.1zM1732.4 611h24.1v2h-24.1zM1732.4 621h24.1v1h-24.1zM1732.4 625.5h24.1v1h-24.1zM1732.4 636h24.1v1h-24.1zM1732.4 670h24.1v1h-24.1zM1732.4 690h24.1v2h-24.1zM1732.4 695h24.1v1h-24.1zM1780.2 587h24.1v1.5h-24.1zM1780.2 589.5h24.1v1h-24.1zM1780.2 593.5h24.1v1h-24.1zM1780.2 594.5h24.1v1h-24.1zM1780.2 599.5h24.1v1h-24.1zM1780.2 600.5h24.1v1h-24.1zM1780.2 611h24.1v1h-24.1zM1780.2 613h24.1v2h-24.1zM1780.2 626.5h24.1v2h-24.1zM1780.2 633h24.1v1h-24.1zM1780.2 637h24.1v1h-24.1zM1780.2 638h24.1v1h-24.1zM1780.2 640h24.1v1.5h-24.1zM1780.2 652h24.1v1.5h-24.1zM1780.2 676h24.1v2h-24.1zM1780.2 685h24.1v1h-24.1zM1780.2 686h24.1v2h-24.1zM1780.2 695h24.1v1h-24.1zM1780.2 696h24.1v1h-24.1zM1780.2 702h24.1v1h-24.1zM1780.2 708h24.1v1.5h-24.1zM1780.2 710.5h24.1v1h-24.1zM1780.2 716.5h24.1v1.5h-24.1zM1780.2 752h24.1v2h-24.1zM1780.2 757.5h24.1v1h-24.1zM1780.2 765.5h24.1v2h-24.1zM1780.2 778.5h24.1v1h-24.1zM1780.2 784.5h24.1v1.5h-24.1zM1780.2 794h24.1v1h-24.1zM1780.2 796.5h24.1v1h-24.1zM1780.2 797.5h24.1v1h-24.1zM1780.2 800.5h24.1v1h-24.1zM1780.2 801.5h24.1v2h-24.1zM1780.2 803.5h24.1v2h-24.1zM1780.2 805.5h24.1v2h-24.1zM1780.2 811.5h24.1v1h-24.1zM1780.2 814.5h24.1v2h-24.1zM1780.2 821.5h24.1v1h-24.1zM1780.2 834.5h24.1v1.5h-24.1zM1780.2 836h24.1v1h-24.1zM1780.2 843h24.1v1h-24.1zM1780.2 844h24.1v1.5h-24.1zM1780.2 851h24.1v2h-24.1zM1780.2 855h24.1v1h-24.1zM1780.2 857.5h24.1v1h-24.1zM1780.2 870h24.1v1.5h-24.1zM1780.2 871.5h24.1v1h-24.1zM1780.2 882h24.1v1h-24.1zM1780.2 888h24.1v1h-24.1zM1780.2 898.5h24.1v1h-24.1zM1780.2 899.5h24.1v1.5h-24.1zM1780.2 901h24.1v1h-24.1zM1780.2 914.5h24.1v1.5h-24.1zM1780.2 916h24.1v2h-24.1zM1828.1 797.5h24.1v1h-24.1zM1828.1 800.5h24.1v2h-24.1zM1828.1 802.5h24.1v1h-24.1zM1828.1 803.5h24.1v1h-24.1zM1828.1 806h24.1v1.5h-24.1zM1828.1 807.5h24.1v1h-24.1zM1828.1 810.5h24.1v1.5h-24.1zM1828.1 812h24.1v1h-24.1zM1828.1 813h24.1v1h-24.1zM1828.1 814h24.1v1h-24.1zM1828.1 815h24.1v1h-24.1zM1828.1 816h24.1v1h-24.1zM1828.1 819h24.1v1h-24.1zM1828.1 820h24.1v2h-24.1zM1828.1 822h24.1v1h-24.1zM1828.1 824h24.1v1h-24.1zM1828.1 825h24.1v2h-24.1zM1828.1 829h24.1v2h-24.1zM1828.1 835h24.1v1.5h-24.1zM1828.1 839.5h24.1v1h-24.1zM1828.1 840.5h24.1v1h-24.1zM1828.1 841.5h24.1v2h-24.1zM1828.1 845.5h24.1v1.5h-24.1zM1828.1 847h24.1v2h-24.1zM1828.1 850h24.1v1h-24.1zM1828.1 852h24.1v1h-24.1zM1828.1 854h24.1v1h-24.1zM1828.1 858h24.1v1.5h-24.1zM1828.1 863h24.1v1h-24.1zM1828.1 864h24.1v1.5h-24.1zM1828.1 865.5h24.1v1h-24.1zM1828.1 866.5h24.1v1.5h-24.1zM1828.1 868h24.1v1h-24.1zM1828.1 870h24.1v1h-24.1zM1828.1 874.5h24.1v2h-24.1zM1828.1 878.5h24.1v1.5h-24.1zM1828.1 886.5h24.1v1h-24.1zM1828.1 896.5h24.1v2h-24.1zM1828.1 900.5h24.1v1h-24.1zM1828.1 903.5h24.1v2h-24.1zM1828.1 912.5h24.1v1.5h-24.1zM1828.1 914h24.1v1.5h-24.1zM1828.1 916.5h24.1v1.5h-24.1zM1876 386.5h24.1v1.5h-24.1zM1876 398.5h24.1v2h-24.1zM1876 400.5h24.1v1.5h-24.1zM1876 427h24.1v1h-24.1zM1876 431h24.1v1.5h-24.1zM1876 453h24.1v2h-24.1zM1876 456h24.1v1.5h-24.1zM1876 458.5h24.1v1h-24.1zM1876 461.5h24.1v1h-24.1zM1876 464.5h24.1v2h-24.1zM1876 501h24.1v1h-24.1zM1876 530.5h24.1v1.5h-24.1zM1876 536h24.1v1h-24.1zM1876 538.5h24.1v1.5h-24.1zM1876 545h24.1v1h-24.1zM1876 555.5h24.1v1h-24.1zM1876 557.5h24.1v2h-24.1zM1876 559.5h24.1v1h-24.1zM1876 570.5h24.1v1h-24.1zM1876 579h24.1v1.5h-24.1zM1876 580.5h24.1v1h-24.1zM1876 605h24.1v1h-24.1zM1876 618.5h24.1v1h-24.1zM1876 620.5h24.1v2h-24.1zM1876 629h24.1v1h-24.1zM1876 630h24.1v1.5h-24.1zM1876 632.5h24.1v1.5h-24.1zM1876 634h24.1v1h-24.1zM1876 635h24.1v2h-24.1zM1876 639h24.1v2h-24.1zM1876 641h24.1v1h-24.1zM1876 643h24.1v1h-24.1zM1876 647h24.1v1h-24.1zM1876 648h24.1v1h-24.1zM1876 649h24.1v1h-24.1zM1876 650h24.1v1h-24.1zM1876 655.5h24.1v1.5h-24.1zM1876 657h24.1v1h-24.1zM1876 658h24.1v1h-24.1zM1876 659h24.1v1h-24.1zM1876 661h24.1v1h-24.1zM1876 662h24.1v1h-24.1zM1876 664h24.1v1.5h-24.1zM1876 665.5h24.1v1h-24.1zM1876 668.5h24.1v2h-24.1zM1876 671.5h24.1v1h-24.1zM1876 675.5h24.1v1h-24.1zM1876 676.5h24.1v1h-24.1zM1876 677.5h24.1v1h-24.1zM1876 678.5h24.1v1h-24.1zM1876 679.5h24.1v1.5h-24.1zM1876 682h24.1v1h-24.1zM1876 683h24.1v1.5h-24.1zM1876 694.5h24.1v1.5h-24.1zM1876 696h24.1v2h-24.1zM1876 698h24.1v1h-24.1zM1876 700h24.1v1h-24.1zM1876 701h24.1v1.5h-24.1zM1876 702.5h24.1v1h-24.1zM1876 703.5h24.1v1h-24.1zM1876 706h24.1v1h-24.1zM1876 707h24.1v1.5h-24.1zM1876 708.5h24.1v1h-24.1zM1876 709.5h24.1v1h-24.1zM1876 710.5h24.1v1h-24.1zM1876 715.5h24.1v1h-24.1zM1876 716.5h24.1v1h-24.1zM1876 717.5h24.1v1h-24.1zM1876 719.5h24.1v1h-24.1zM1876 720.5h24.1v1h-24.1zM1876 723.5h24.1v2h-24.1zM1876 728h24.1v1h-24.1zM1876 729h24.1v1h-24.1zM1876 730h24.1v1h-24.1zM1876 731h24.1v1h-24.1zM1876 734h24.1v1h-24.1zM1876 738.5h24.1v1h-24.1zM1876 741.5h24.1v1.5h-24.1zM1876 744h24.1v1.5h-24.1zM1876 745.5h24.1v1.5h-24.1zM1876 751.5h24.1v2h-24.1zM1876 753.5h24.1v1h-24.1zM1876 755.5h24.1v1h-24.1zM1876 756.5h24.1v1h-24.1zM1876 760.5h24.1v1h-24.1zM1876 761.5h24.1v1h-24.1zM1876 763.5h24.1v1h-24.1zM1876 764.5h24.1v2h-24.1zM1876 766.5h24.1v2h-24.1zM1876 771.5h24.1v2h-24.1zM1876 773.5h24.1v1.5h-24.1zM1876 775h24.1v1h-24.1zM1876 776h24.1v1h-24.1zM1876 780h24.1v1h-24.1zM1876 781h24.1v1h-24.1zM1876 782h24.1v1h-24.1zM1876 783h24.1v1h-24.1zM1876 788.5h24.1v1h-24.1zM1876 791h24.1v2h-24.1zM1876 794h24.1v1h-24.1zM1876 796h24.1v1.5h-24.1zM1876 800h24.1v1h-24.1zM1876 804h24.1v1h-24.1zM1876 816h24.1v1h-24.1zM1876 820h24.1v2h-24.1zM1876 869h24.1v1.5h-24.1zM1876 873h24.1v1h-24.1zM1876 874h24.1v1h-24.1zM1876 876h24.1v1h-24.1zM1876 880h24.1v2h-24.1zM1971.8 826.5h24.1v1h-24.1zM1971.8 829h24.1v2h-24.1zM1971.8 834.5h24.1v1h-24.1zM1971.8 835.5h24.1v2h-24.1zM1971.8 849h24.1v1h-24.1zM1971.8 873h24.1v1.5h-24.1zM1971.8 875.5h24.1v1h-24.1zM1971.8 881.5h24.1v1.5h-24.1zM1971.8 891h24.1v1h-24.1zM1971.8 892h24.1v2h-24.1zM1995.7 392h24.1v1h-24.1zM1995.7 393h24.1v1h-24.1zM1995.7 401h24.1v1h-24.1zM1995.7 403.5h24.1v2h-24.1zM1995.7 407.5h24.1v1h-24.1zM1995.7 415.5h24.1v1.5h-24.1zM1995.7 419h24.1v1h-24.1zM1995.7 421h24.1v1h-24.1zM1995.7 424h24.1v1h-24.1zM2019.7 434h24.1v1h-24.1zM2019.7 435h24.1v1h-24.1zM2019.7 439.5h24.1v2h-24.1zM2019.7 441.5h24.1v1h-24.1zM2019.7 445h24.1v2h-24.1zM2019.7 447h24.1v1.5h-24.1zM2019.7 455.5h24.1v1.5h-24.1zM2019.7 458h24.1v2h-24.1zM2019.7 464h24.1v1h-24.1zM2019.7 465h24.1v2h-24.1zM2019.7 468h24.1v2h-24.1zM2019.7 476h24.1v1h-24.1zM2019.7 478h24.1v1.5h-24.1zM2019.7 492.5h24.1v1.5h-24.1zM2019.7 494h24.1v1h-24.1zM2019.7 496h24.1v1h-24.1zM2019.7 501h24.1v1h-24.1zM2019.7 502h24.1v1.5h-24.1zM2019.7 509.5h24.1v2h-24.1zM2019.7 511.5h24.1v1h-24.1zM2019.7 516.5h24.1v1h-24.1zM2019.7 517.5h24.1v1h-24.1zM2019.7 522.5h24.1v1h-24.1zM2019.7 523.5h24.1v1.5h-24.1zM2019.7 526h24.1v1.5h-24.1zM2019.7 527.5h24.1v1.5h-24.1zM2019.7 530.5h24.1v2h-24.1zM2019.7 537h24.1v1.5h-24.1zM2019.7 539.5h24.1v1.5h-24.1zM2019.7 546h24.1v1h-24.1zM2019.7 548h24.1v1.5h-24.1zM2019.7 549.5h24.1v1.5h-24.1zM2019.7 551h24.1v1h-24.1zM2019.7 552h24.1v2h-24.1zM2019.7 559h24.1v1.5h-24.1zM2019.7 564.5h24.1v2h-24.1zM2019.7 566.5h24.1v1h-24.1zM2019.7 576h24.1v2h-24.1zM2019.7 578h24.1v1.5h-24.1zM2019.7 579.5h24.1v1h-24.1zM2019.7 580.5h24.1v1.5h-24.1zM2019.7 584h24.1v1h-24.1zM2019.7 586h24.1v1h-24.1zM2019.7 587h24.1v1h-24.1zM2019.7 595.5h24.1v1h-24.1zM2019.7 598.5h24.1v1h-24.1zM2019.7 599.5h24.1v1h-24.1zM2019.7 600.5h24.1v2h-24.1zM2019.7 606.5h24.1v2h-24.1zM2019.7 608.5h24.1v1h-24.1zM2019.7 609.5h24.1v1.5h-24.1zM2019.7 611h24.1v1h-24.1zM2019.7 613h24.1v1h-24.1zM2019.7 614h24.1v1h-24.1zM2019.7 616.5h24.1v1h-24.1zM2019.7 617.5h24.1v1.5h-24.1zM2019.7 623.5h24.1v2h-24.1zM2019.7 626.5h24.1v1h-24.1zM2019.7 629.5h24.1v1h-24.1zM2019.7 634.5h24.1v1h-24.1zM2019.7 635.5h24.1v2h-24.1zM2019.7 640.5h24.1v1h-24.1zM2019.7 641.5h24.1v1h-24.1zM2019.7 642.5h24.1v1.5h-24.1zM2019.7 644h24.1v1h-24.1zM2019.7 645h24.1v1h-24.1zM2019.7 650.5h24.1v2h-24.1zM2019.7 653.5h24.1v1h-24.1zM2019.7 662h24.1v1h-24.1zM2019.7 663h24.1v1.5h-24.1zM2019.7 664.5h24.1v1h-24.1zM2019.7 665.5h24.1v2h-24.1zM2019.7 667.5h24.1v1h-24.1zM2019.7 671.5h24.1v2h-24.1zM2019.7 674.5h24.1v1h-24.1zM2019.7 675.5h24.1v1h-24.1zM2019.7 676.5h24.1v2h-24.1zM2019.7 685.5h24.1v1h-24.1zM2019.7 689h24.1v2h-24.1zM2019.7 693h24.1v1.5h-24.1zM2019.7 694.5h24.1v2h-24.1zM2019.7 699.5h24.1v1.5h-24.1zM2019.7 704h24.1v2h-24.1zM2019.7 709h24.1v1h-24.1zM2019.7 724h24.1v1h-24.1zM2019.7 734h24.1v1.5h-24.1zM2019.7 735.5h24.1v1h-24.1zM2019.7 749h24.1v1h-24.1zM2019.7 779.5h24.1v1h-24.1zM2019.7 783.5h24.1v1h-24.1zM2019.7 803h24.1v1h-24.1zM2019.7 809h24.1v1h-24.1zM2019.7 815h24.1v1h-24.1zM2019.7 819.5h24.1v1h-24.1zM2019.7 823.5h24.1v1.5h-24.1zM2019.7 833h24.1v1h-24.1zM2019.7 848h24.1v1h-24.1zM2019.7 854.5h24.1v1h-24.1zM2019.7 870h24.1v1h-24.1zM2019.7 874h24.1v1h-24.1zM2019.7 884h24.1v1h-24.1zM2019.7 889.5h24.1v1h-24.1zM2019.7 894h24.1v1h-24.1zM2019.7 906.5h24.1v1h-24.1zM2019.7 912.5h24.1v2h-24.1zM2019.7 938h24.1v1h-24.1zM2019.7 951.5h24.1v1h-24.1zM2019.7 977.5h24.1v1h-24.1zM2019.7 982h24.1v1h-24.1z" fill="#27291b"/>
<path d="M1588.7 406h24.1v1h-24.1zM1588.7 410.5h24.1v2h-24.1zM1588.7 416.5h24.1v1h-24.1zM1588.7 425h24.1v2h-24.1zM1588.7 456h24.1v1h-24.1zM1588.7 457h24.1v1.5h-24.1zM1588.7 500h24.1v2h-24.1zM1588.7 503h24.1v1h-24.1zM1588.7 514h24.1v1h-24.1zM1588.7 516.5h24.1v2h-24.1zM1588.7 570h24.1v1h-24.1zM1588.7 584h24.1v2h-24.1zM1588.7 589.5h24.1v1h-24.1zM1588.7 593h24.1v1h-24.1zM1588.7 656h24.1v1h-24.1zM1588.7 657h24.1v1h-24.1zM1588.7 672h24.1v1h-24.1zM1588.7 676h24.1v2h-24.1zM1588.7 700.5h24.1v1h-24.1zM1588.7 701.5h24.1v2h-24.1zM1588.7 708.5h24.1v2h-24.1zM1588.7 715.5h24.1v1h-24.1zM1588.7 728.5h24.1v1h-24.1zM1588.7 729.5h24.1v2h-24.1zM1588.7 731.5h24.1v1h-24.1zM1588.7 739.5h24.1v1.5h-24.1zM1588.7 741h24.1v1.5h-24.1zM1588.7 756h24.1v1.5h-24.1zM1588.7 763.5h24.1v1.5h-24.1zM1588.7 766h24.1v2h-24.1zM1588.7 769.5h24.1v1h-24.1zM1588.7 773.5h24.1v1.5h-24.1zM1588.7 775h24.1v2h-24.1zM1588.7 780h24.1v1.5h-24.1zM1588.7 783h24.1v1h-24.1zM1588.7 786h24.1v1.5h-24.1zM1588.7 797h24.1v1h-24.1zM1588.7 799h24.1v1h-24.1zM1588.7 800h24.1v1h-24.1zM1588.7 805h24.1v1h-24.1zM1588.7 810h24.1v1h-24.1zM1588.7 815h24.1v1.5h-24.1zM1588.7 823.5h24.1v1h-24.1zM1588.7 832h24.1v1.5h-24.1zM1588.7 834.5h24.1v1h-24.1zM1588.7 840.5h24.1v2h-24.1zM1588.7 846h24.1v1.5h-24.1zM1588.7 864h24.1v1h-24.1zM1588.7 875h24.1v1.5h-24.1zM1588.7 878h24.1v1.5h-24.1zM1588.7 882h24.1v1h-24.1zM1612.7 625h24.1v1.5h-24.1zM1612.7 626.5h24.1v1.5h-24.1zM1612.7 637h24.1v1h-24.1zM1612.7 638h24.1v1h-24.1zM1612.7 640h24.1v1h-24.1zM1612.7 646h24.1v1h-24.1zM1612.7 648h24.1v1h-24.1zM1612.7 651h24.1v1h-24.1zM1612.7 653.5h24.1v1h-24.1zM1612.7 658.5h24.1v2h-24.1zM1612.7 663h24.1v2h-24.1zM1612.7 674h24.1v1h-24.1zM1612.7 679h24.1v1h-24.1zM1612.7 684h24.1v2h-24.1zM1612.7 692.5h24.1v1h-24.1zM1612.7 699h24.1v1h-24.1zM1612.7 702h24.1v2h-24.1zM1612.7 707.5h24.1v1.5h-24.1zM1612.7 710.5h24.1v1h-24.1zM1612.7 718.5h24.1v1h-24.1zM1612.7 722.5h24.1v1h-24.1zM1612.7 724.5h24.1v1h-24.1zM1612.7 730h24.1v2h-24.1zM1612.7 734h24.1v2h-24.1zM1612.7 737h24.1v1h-24.1zM1612.7 739h24.1v1.5h-24.1zM1612.7 740.5h24.1v1h-24.1zM1612.7 743.5h24.1v1h-24.1zM1612.7 747h24.1v1.5h-24.1zM1612.7 751.5h24.1v1h-24.1zM1612.7 760.5h24.1v1.5h-24.1zM1612.7 763h24.1v1.5h-24.1zM1612.7 764.5h24.1v1h-24.1zM1612.7 765.5h24.1v1h-24.1zM1612.7 766.5h24.1v1h-24.1zM1612.7 774.5h24.1v1h-24.1zM1612.7 778.5h24.1v1.5h-24.1zM1612.7 780h24.1v1h-24.1zM1612.7 786h24.1v1.5h-24.1zM1612.7 787.5h24.1v1.5h-24.1zM1612.7 799h24.1v2h-24.1zM1612.7 805h24.1v1h-24.1zM1612.7 809h24.1v1.5h-24.1zM1612.7 813.5h24.1v1.5h-24.1zM1612.7 817.5h24.1v1h-24.1zM1612.7 835.5h24.1v1h-24.1zM1780.2 590.5h24.1v2h-24.1zM1780.2 592.5h24.1v1h-24.1zM1780.2 595.5h24.1v1h-24.1zM1780.2 597.5h24.1v1h-24.1zM1780.2 598.5h24.1v1h-24.1zM1780.2 603.5h24.1v2h-24.1zM1780.2 610h24.1v1h-24.1zM1780.2 615h24.1v1h-24.1zM1780.2 616h24.1v2h-24.1zM1780.2 641.5h24.1v2h-24.1zM1780.2 643.5h24.1v1h-24.1zM1780.2 646.5h24.1v1.5h-24.1zM1780.2 656h24.1v1h-24.1zM1780.2 662h24.1v1h-24.1zM1780.2 675h24.1v1h-24.1zM1780.2 681.5h24.1v1.5h-24.1zM1780.2 689h24.1v1h-24.1zM1780.2 691h24.1v2h-24.1zM1780.2 693h24.1v1h-24.1zM1780.2 697h24.1v1h-24.1zM1780.2 704h24.1v2h-24.1zM1780.2 711.5h24.1v2h-24.1zM1780.2 714.5h24.1v1h-24.1zM1780.2 721h24.1v1.5h-24.1zM1780.2 727.5h24.1v2h-24.1zM1780.2 732h24.1v2h-24.1zM1780.2 739.5h24.1v1.5h-24.1zM1780.2 742h24.1v2h-24.1zM1780.2 744h24.1v2h-24.1zM1780.2 747h24.1v1h-24.1zM1780.2 751h24.1v1h-24.1zM1780.2 754h24.1v1h-24.1zM1780.2 758.5h24.1v1h-24.1zM1780.2 759.5h24.1v2h-24.1zM1780.2 761.5h24.1v1h-24.1zM1780.2 773.5h24.1v1h-24.1zM1780.2 787h24.1v1h-24.1zM1780.2 788h24.1v1h-24.1zM1828.1 796.5h24.1v1h-24.1zM1828.1 798.5h24.1v2h-24.1zM1828.1 818h24.1v1h-24.1zM1828.1 823h24.1v1h-24.1zM1828.1 836.5h24.1v2h-24.1zM1828.1 853h24.1v1h-24.1zM1828.1 856h24.1v1h-24.1zM1828.1 857h24.1v1h-24.1zM1828.1 859.5h24.1v1.5h-24.1zM1828.1 861h24.1v1h-24.1zM1828.1 862h24.1v1h-24.1zM1828.1 876.5h24.1v1h-24.1zM1828.1 885.5h24.1v1h-24.1zM1828.1 892h24.1v2h-24.1zM1828.1 901.5h24.1v1h-24.1zM1828.1 902.5h24.1v1h-24.1zM1876 405.5h24.1v1.5h-24.1zM1876 415.5h24.1v1h-24.1zM1876 428h24.1v1h-24.1zM1876 438.5h24.1v1h-24.1zM1876 445.5h24.1v2h-24.1zM1876 467.5h24.1v1.5h-24.1zM1876 470h24.1v1.5h-24.1zM1876 471.5h24.1v1h-24.1zM1876 489h24.1v2h-24.1zM1876 516.5h24.1v1.5h-24.1zM1876 523.5h24.1v1h-24.1zM1876 532h24.1v2h-24.1zM1876 574.5h24.1v1h-24.1zM1876 585.5h24.1v2h-24.1zM1876 587.5h24.1v2h-24.1zM1876 596h24.1v1h-24.1zM1876 604h24.1v1h-24.1zM1876 627h24.1v1h-24.1zM1876 631.5h24.1v1h-24.1zM1876 637h24.1v2h-24.1zM1876 663h24.1v1h-24.1zM1876 672.5h24.1v2h-24.1zM1876 686h24.1v2h-24.1zM1876 690h24.1v1.5h-24.1zM1876 692.5h24.1v1h-24.1zM1876 704.5h24.1v1.5h-24.1zM1876 713.5h24.1v1h-24.1zM1876 718.5h24.1v1h-24.1zM1876 754.5h24.1v1h-24.1zM1876 778h24.1v1h-24.1zM1876 787h24.1v1.5h-24.1zM1876 795h24.1v1h-24.1zM1971.8 742.5h24.1v3h-24.1zM1971.8 754h24.1v2.5h-24.1zM1971.8 770h24.1v1h-24.1zM1971.8 771h24.1v2.5h-24.1zM1971.8 786h24.1v1h-24.1zM1971.8 810.5h24.1v2h-24.1zM1971.8 816h24.1v2.5h-24.1zM1971.8 821.5h24.1v2h-24.1zM1971.8 840h24.1v1h-24.1zM1971.8 843h24.1v2h-24.1zM1971.8 846h24.1v1h-24.1zM1971.8 855h24.1v2h-24.1zM1971.8 860h24.1v1h-24.1zM1971.8 884.5h24.1v1h-24.1zM1971.8 888h24.1v2h-24.1zM1971.8 897.5h24.1v2h-24.1zM1971.8 904.5h24.1v1h-24.1zM1971.8 911h24.1v1h-24.1zM2019.7 436h24.1v1h-24.1zM2019.7 437h24.1v1h-24.1zM2019.7 448.5h24.1v1h-24.1zM2019.7 453.5h24.1v1h-24.1zM2019.7 454.5h24.1v1h-24.1zM2019.7 460h24.1v1h-24.1zM2019.7 473.5h24.1v1.5h-24.1zM2019.7 475h24.1v1h-24.1zM2019.7 485.5h24.1v2h-24.1zM2019.7 487.5h24.1v2h-24.1zM2019.7 498.5h24.1v1h-24.1zM2019.7 505h24.1v1h-24.1zM2019.7 507h24.1v1h-24.1zM2019.7 508h24.1v1.5h-24.1zM2019.7 538.5h24.1v1h-24.1zM2019.7 557.5h24.1v1.5h-24.1zM2019.7 560.5h24.1v2h-24.1zM2019.7 563.5h24.1v1h-24.1zM2019.7 567.5h24.1v1.5h-24.1zM2019.7 569h24.1v1h-24.1zM2019.7 570h24.1v2h-24.1zM2019.7 588h24.1v1h-24.1zM2019.7 589h24.1v1h-24.1zM2019.7 593h24.1v1.5h-24.1zM2019.7 605.5h24.1v1h-24.1zM2019.7 612h24.1v1h-24.1zM2019.7 615h24.1v1.5h-24.1zM2019.7 619h24.1v1.5h-24.1zM2019.7 621.5h24.1v1h-24.1zM2019.7 622.5h24.1v1h-24.1zM2019.7 627.5h24.1v1h-24.1zM2019.7 628.5h24.1v1h-24.1zM2019.7 631.5h24.1v1h-24.1zM2019.7 637.5h24.1v2h-24.1zM2019.7 649h24.1v1.5h-24.1zM2019.7 652.5h24.1v1h-24.1zM2019.7 654.5h24.1v1.5h-24.1zM2019.7 681.5h24.1v1.5h-24.1zM2019.7 686.5h24.1v1h-24.1zM2019.7 691h24.1v2h-24.1z" fill="#2c3a21"/>
<path d="M1612.7 623h24.1v1h-24.1zM1612.7 624h24.1v1h-24.1zM1612.7 631h24.1v1h-24.1zM1612.7 635h24.1v1h-24.1zM1612.7 641h24.1v1h-24.1zM1612.7 654.5h24.1v1h-24.1zM1612.7 655.5h24.1v1h-24.1zM1612.7 671h24.1v2h-24.1zM1612.7 676h24.1v1h-24.1zM1612.7 681h24.1v2h-24.1zM1612.7 683h24.1v1h-24.1zM1612.7 691.5h24.1v1h-24.1zM1612.7 693.5h24.1v1.5h-24.1zM1612.7 696h24.1v2h-24.1zM1612.7 706h24.1v1.5h-24.1zM1612.7 721.5h24.1v1h-24.1zM1612.7 736h24.1v1h-24.1zM1612.7 754h24.1v1h-24.1zM1612.7 757h24.1v2h-24.1zM1612.7 772.5h24.1v2h-24.1zM1612.7 777.5h24.1v1h-24.1zM1612.7 781h24.1v1h-24.1zM1612.7 785h24.1v1h-24.1zM1612.7 793h24.1v1h-24.1zM1612.7 801h24.1v1h-24.1zM1612.7 808h24.1v1h-24.1zM1780.2 596.5h24.1v1h-24.1zM1780.2 607.5h24.1v1h-24.1zM1780.2 625.5h24.1v1h-24.1zM1780.2 631h24.1v2h-24.1zM1780.2 639h24.1v1h-24.1zM1780.2 661h24.1v1h-24.1zM1780.2 663h24.1v1.5h-24.1zM1780.2 673h24.1v1h-24.1zM1780.2 679.5h24.1v1h-24.1zM1780.2 684h24.1v1h-24.1zM1780.2 698h24.1v1h-24.1zM1780.2 703h24.1v1h-24.1zM1780.2 715.5h24.1v1h-24.1zM1780.2 718h24.1v1h-24.1zM1780.2 719h24.1v2h-24.1zM1780.2 723.5h24.1v1h-24.1zM1780.2 729.5h24.1v1h-24.1zM1780.2 730.5h24.1v1.5h-24.1zM1780.2 734h24.1v2h-24.1zM1780.2 750h24.1v1h-24.1zM1780.2 755h24.1v1.5h-24.1zM1780.2 763.5h24.1v1h-24.1zM1780.2 768.5h24.1v1.5h-24.1zM1780.2 777.5h24.1v1h-24.1zM1780.2 779.5h24.1v1h-24.1zM1780.2 789h24.1v2h-24.1zM1780.2 792h24.1v2h-24.1zM1780.2 795h24.1v1.5h-24.1zM1828.1 604h24.1v3h-24.1zM1828.1 636h24.1v2h-24.1zM1828.1 661h24.1v1.5h-24.1zM1828.1 666.5h24.1v1.5h-24.1zM1828.1 684.5h24.1v1h-24.1zM1828.1 688h24.1v2h-24.1zM1828.1 702h24.1v3h-24.1zM1828.1 709h24.1v2.5h-24.1zM1828.1 745.5h24.1v1.5h-24.1zM1828.1 761h24.1v1.5h-24.1zM1828.1 767.5h24.1v1.5h-24.1zM1828.1 771h24.1v2.5h-24.1zM1828.1 787.5h24.1v2.5h-24.1zM1828.1 790h24.1v1h-24.1zM1876 373h24.1v1h-24.1zM1876 384.5h24.1v1h-24.1zM1876 395h24.1v1.5h-24.1zM1876 396.5h24.1v1h-24.1zM1876 402h24.1v2h-24.1zM1876 416.5h24.1v2h-24.1zM1876 434.5h24.1v1h-24.1zM1876 466.5h24.1v1h-24.1zM1876 483h24.1v1h-24.1zM1876 493.5h24.1v1h-24.1zM1876 508h24.1v2h-24.1zM1876 514.5h24.1v2h-24.1zM1876 524.5h24.1v1h-24.1zM1876 528.5h24.1v1h-24.1zM1876 537h24.1v1.5h-24.1zM1876 553.5h24.1v2h-24.1zM1876 568h24.1v1.5h-24.1zM1876 575.5h24.1v1h-24.1zM1876 576.5h24.1v1h-24.1zM1876 591h24.1v1h-24.1zM1971.8 745.5h24.1v2h-24.1zM1971.8 752h24.1v2h-24.1zM1971.8 761h24.1v2.5h-24.1zM1971.8 763.5h24.1v1.5h-24.1zM1971.8 765h24.1v1h-24.1zM1971.8 779.5h24.1v1h-24.1zM1971.8 780.5h24.1v3h-24.1zM1971.8 791.5h24.1v1.5h-24.1zM1971.8 794h24.1v1.5h-24.1zM1971.8 815h24.1v1h-24.1zM1971.8 827.5h24.1v1.5h-24.1zM1971.8 845h24.1v1h-24.1zM1971.8 850h24.1v1h-24.1zM1971.8 852h24.1v1h-24.1zM1971.8 853h24.1v1h-24.1zM1971.8 859h24.1v1h-24.1zM1971.8 876.5h24.1v1h-24.1zM1971.8 895h24.1v1.5h-24.1zM1971.8 896.5h24.1v1h-24.1z" fill="#304a26"/>
<path d="M1780.2 548h24.1v1.5h-24.1zM1780.2 549.5h24.1v1h-24.1zM1780.2 565h24.1v1h-24.1zM1780.2 569h24.1v1.5h-24.1zM1780.2 577h24.1v3h-24.1zM1780.2 580h24.1v1.5h-24.1zM1780.2 612h24.1v1h-24.1zM1780.2 623h24.1v1.5h-24.1zM1780.2 644.5h24.1v1h-24.1zM1780.2 650h24.1v2h-24.1zM1780.2 657h24.1v1h-24.1zM1780.2 658h24.1v1h-24.1zM1780.2 660h24.1v1h-24.1zM1780.2 664.5h24.1v1h-24.1zM1780.2 671h24.1v2h-24.1zM1780.2 680.5h24.1v1h-24.1zM1780.2 683h24.1v1h-24.1zM1780.2 688h24.1v1h-24.1zM1780.2 690h24.1v1h-24.1zM1780.2 699h24.1v2h-24.1zM1780.2 701h24.1v1h-24.1zM1780.2 709.5h24.1v1h-24.1zM1780.2 724.5h24.1v1h-24.1zM1780.2 736h24.1v1.5h-24.1zM1780.2 737.5h24.1v2h-24.1zM1780.2 741h24.1v1h-24.1zM1780.2 762.5h24.1v1h-24.1zM1780.2 764.5h24.1v1h-24.1zM1780.2 767.5h24.1v1h-24.1zM1780.2 780.5h24.1v1h-24.1zM1780.2 781.5h24.1v1h-24.1zM1780.2 782.5h24.1v1h-24.1zM1780.2 786h24.1v1h-24.1zM1828.1 376h24.1v1.5h-24.1zM1828.1 387.5h24.1v3h-24.1zM1828.1 392.5h24.1v2.5h-24.1zM1828.1 425.5h24.1v2.5h-24.1zM1828.1 440h24.1v2.5h-24.1zM1828.1 446.5h24.1v1.5h-24.1zM1828.1 448h24.1v2h-24.1zM1828.1 478h24.1v2h-24.1zM1828.1 559h24.1v2.5h-24.1zM1828.1 566h24.1v3h-24.1zM1828.1 586h24.1v1.5h-24.1zM1828.1 589.5h24.1v2h-24.1zM1828.1 610.5h24.1v1h-24.1zM1828.1 611.5h24.1v2.5h-24.1zM1828.1 619h24.1v1.5h-24.1zM1828.1 620.5h24.1v2h-24.1zM1828.1 622.5h24.1v2.5h-24.1zM1828.1 630h24.1v2.5h-24.1zM1828.1 640.5h24.1v2.5h-24.1zM1828.1 649.5h24.1v1.5h-24.1zM1828.1 662.5h24.1v2h-24.1zM1828.1 664.5h24.1v2h-24.1zM1828.1 672h24.1v1h-24.1zM1828.1 673h24.1v2h-24.1zM1828.1 683.5h24.1v1h-24.1zM1828.1 687h24.1v1h-24.1zM1828.1 691.5h24.1v2h-24.1zM1828.1 696.5h24.1v1.5h-24.1zM1828.1 716h24.1v3h-24.1zM1828.1 724h24.1v1.5h-24.1zM1828.1 730h24.1v3h-24.1zM1828.1 735h24.1v1h-24.1zM1828.1 737.5h24.1v2h-24.1zM1828.1 739.5h24.1v3h-24.1zM1828.1 747h24.1v1.5h-24.1zM1828.1 756.5h24.1v2.5h-24.1zM1828.1 765h24.1v2.5h-24.1zM1828.1 777.5h24.1v2.5h-24.1zM1828.1 791h24.1v1.5h-24.1zM1828.1 792.5h24.1v3h-24.1zM1876 376h24.1v1h-24.1zM1876 377h24.1v1.5h-24.1zM1876 379.5h24.1v1h-24.1zM1876 385.5h24.1v1h-24.1zM1876 393.5h24.1v1.5h-24.1zM1876 412h24.1v1h-24.1zM1876 414h24.1v1.5h-24.1zM1876 422.5h24.1v1h-24.1zM1876 436.5h24.1v1h-24.1zM1876 447.5h24.1v1h-24.1zM1876 450h24.1v2h-24.1zM1876 474.5h24.1v1h-24.1zM1876 484h24.1v1h-24.1zM1876 519h24.1v1h-24.1zM1876 527.5h24.1v1h-24.1zM1876 542h24.1v1.5h-24.1zM1876 548h24.1v2h-24.1zM1876 550h24.1v1.5h-24.1zM1876 556.5h24.1v1h-24.1zM1876 563h24.1v2h-24.1zM1876 566h24.1v2h-24.1zM1876 569.5h24.1v1h-24.1zM1876 572.5h24.1v1h-24.1zM1876 583.5h24.1v1h-24.1zM1876 584.5h24.1v1h-24.1zM1876 589.5h24.1v1.5h-24.1zM1876 592h24.1v2h-24.1zM1876 612.5h24.1v1h-24.1zM1971.8 734.5h24.1v3h-24.1zM1971.8 748.5h24.1v2.5h-24.1zM1971.8 773.5h24.1v1h-24.1zM1971.8 783.5h24.1v2.5h-24.1zM1971.8 804h24.1v1.5h-24.1zM1971.8 837.5h24.1v1h-24.1zM1971.8 847h24.1v2h-24.1zM1971.8 851h24.1v1h-24.1zM1971.8 862.5h24.1v1.5h-24.1zM1971.8 885.5h24.1v1.5h-24.1zM1971.8 914h24.1v1.5h-24.1zM1971.8 917.5h24.1v1h-24.1zM2019.7 381.5h24.1v1h-24.1zM2019.7 394.5h24.1v1h-24.1zM2019.7 407.5h24.1v1.5h-24.1zM2019.7 412h24.1v1.5h-24.1zM2019.7 413.5h24.1v2h-24.1zM2019.7 415.5h24.1v2h-24.1zM2019.7 420h24.1v2.5h-24.1zM2019.7 425.5h24.1v1.5h-24.1zM2019.7 430h24.1v2.5h-24.1z" fill="#345b2c"/>
<path d="M1780.2 388h24.1v1.5h-24.1zM1780.2 389.5h24.1v1.5h-24.1zM1780.2 391h24.1v1h-24.1zM1780.2 405h24.1v2.5h-24.1zM1780.2 407.5h24.1v2.5h-24.1zM1780.2 412.5h24.1v2.5h-24.1zM1780.2 415h24.1v1h-24.1zM1780.2 416h24.1v1.5h-24.1zM1780.2 417.5h24.1v2h-24.1zM1780.2 424.5h24.1v1h-24.1zM1780.2 425.5h24.1v1.5h-24.1zM1780.2 429h24.1v3h-24.1zM1780.2 432h24.1v1.5h-24.1zM1780.2 436.5h24.1v2h-24.1zM1780.2 441h24.1v1h-24.1zM1780.2 443.5h24.1v3h-24.1zM1780.2 455.5h24.1v3h-24.1zM1780.2 464.5h24.1v2.5h-24.1zM1780.2 467h24.1v1h-24.1zM1780.2 470.5h24.1v1h-24.1zM1780.2 471.5h24.1v1h-24.1zM1780.2 474.5h24.1v2.5h-24.1zM1780.2 477h24.1v1h-24.1zM1780.2 484.5h24.1v2.5h-24.1zM1780.2 487h24.1v1.5h-24.1zM1780.2 488.5h24.1v3h-24.1zM1780.2 491.5h24.1v1h-24.1zM1780.2 492.5h24.1v3h-24.1zM1780.2 495.5h24.1v3h-24.1zM1780.2 500h24.1v1h-24.1zM1780.2 501h24.1v2.5h-24.1zM1780.2 511h24.1v2.5h-24.1zM1780.2 513.5h24.1v1h-24.1zM1780.2 523h24.1v2h-24.1zM1780.2 525h24.1v1.5h-24.1zM1780.2 527.5h24.1v2h-24.1zM1780.2 529.5h24.1v2h-24.1zM1780.2 543.5h24.1v2.5h-24.1zM1780.2 570.5h24.1v2.5h-24.1zM1780.2 573h24.1v2.5h-24.1zM1780.2 581.5h24.1v1h-24.1zM1780.2 582.5h24.1v1.5h-24.1zM1780.2 674h24.1v1h-24.1zM1780.2 694h24.1v1h-24.1zM1780.2 725.5h24.1v2h-24.1zM1780.2 746h24.1v1h-24.1zM1828.1 382h24.1v3h-24.1zM1828.1 391.5h24.1v1h-24.1zM1828.1 400h24.1v2.5h-24.1zM1828.1 402.5h24.1v1.5h-24.1zM1828.1 408.5h24.1v3h-24.1zM1828.1 411.5h24.1v2h-24.1zM1828.1 417h24.1v1h-24.1zM1828.1 421h24.1v1.5h-24.1zM1828.1 422.5h24.1v3h-24.1zM1828.1 428h24.1v2.5h-24.1zM1828.1 430.5h24.1v3h-24.1zM1828.1 433.5h24.1v1h-24.1zM1828.1 434.5h24.1v2.5h-24.1zM1828.1 437h24.1v3h-24.1zM1828.1 442.5h24.1v1h-24.1zM1828.1 443.5h24.1v3h-24.1zM1828.1 450h24.1v3h-24.1zM1828.1 453h24.1v3h-24.1zM1828.1 464h24.1v2.5h-24.1zM1828.1 466.5h24.1v2h-24.1zM1828.1 471h24.1v1.5h-24.1zM1828.1 476h24.1v2h-24.1zM1828.1 480h24.1v2.5h-24.1zM1828.1 482.5h24.1v3h-24.1zM1828.1 487h24.1v3h-24.1zM1828.1 492.5h24.1v1.5h-24.1zM1828.1 499h24.1v2h-24.1zM1828.1 501h24.1v2.5h-24.1zM1828.1 505.5h24.1v2h-24.1zM1828.1 507.5h24.1v3h-24.1zM1828.1 511.5h24.1v2h-24.1zM1828.1 513.5h24.1v3h-24.1zM1828.1 520h24.1v3h-24.1zM1828.1 523h24.1v2h-24.1zM1828.1 530h24.1v1.5h-24.1zM1828.1 531.5h24.1v2.5h-24.1zM1828.1 534h24.1v1.5h-24.1zM1828.1 542h24.1v1.5h-24.1zM1828.1 549.5h24.1v2h-24.1zM1828.1 551.5h24.1v2.5h-24.1zM1828.1 554h24.1v2h-24.1zM1828.1 561.5h24.1v1.5h-24.1zM1828.1 570.5h24.1v2.5h-24.1zM1828.1 580h24.1v3h-24.1zM1828.1 583h24.1v2h-24.1zM1828.1 588.5h24.1v1h-24.1zM1828.1 591.5h24.1v2h-24.1zM1828.1 603h24.1v1h-24.1zM1828.1 609h24.1v1.5h-24.1zM1828.1 617h24.1v2h-24.1zM1828.1 626.5h24.1v2.5h-24.1zM1828.1 629h24.1v1h-24.1zM1828.1 632.5h24.1v2h-24.1zM1828.1 638h24.1v2.5h-24.1zM1828.1 643h24.1v1h-24.1zM1828.1 644h24.1v1.5h-24.1zM1828.1 645.5h24.1v1h-24.1zM1828.1 668h24.1v1h-24.1zM1828.1 670h24.1v2h-24.1zM1828.1 675h24.1v3h-24.1zM1828.1 685.5h24.1v1.5h-24.1zM1828.1 690h24.1v1.5h-24.1zM1828.1 701h24.1v1h-24.1zM1828.1 705h24.1v1.5h-24.1zM1828.1 713h24.1v1.5h-24.1zM1828.1 719h24.1v1h-24.1zM1828.1 720h24.1v1.5h-24.1zM1828.1 727.5h24.1v2.5h-24.1zM1828.1 733h24.1v2h-24.1zM1828.1 736h24.1v1.5h-24.1zM1828.1 750.5h24.1v3h-24.1zM1828.1 753.5h24.1v3h-24.1zM1828.1 762.5h24.1v2.5h-24.1zM1828.1 769h24.1v2h-24.1zM1828.1 773.5h24.1v2h-24.1zM1828.1 780h24.1v2.5h-24.1zM1828.1 782.5h24.1v2h-24.1zM1828.1 795.5h24.1v1h-24.1zM1876 381.5h24.1v1h-24.1zM1876 389h24.1v1h-24.1zM1876 397.5h24.1v1h-24.1zM1876 432.5h24.1v1h-24.1zM1876 433.5h24.1v1h-24.1zM1876 435.5h24.1v1h-24.1zM1876 437.5h24.1v1h-24.1zM1876 441.5h24.1v1h-24.1zM1876 442.5h24.1v1.5h-24.1zM1876 457.5h24.1v1h-24.1zM1876 460.5h24.1v1h-24.1zM1876 476.5h24.1v1.5h-24.1zM1876 479h24.1v1h-24.1zM1876 488h24.1v1h-24.1zM1876 492h24.1v1.5h-24.1zM1876 497h24.1v1h-24.1zM1876 500h24.1v1h-24.1zM1876 503.5h24.1v1.5h-24.1zM1876 510h24.1v1h-24.1zM1876 520h24.1v1h-24.1zM1876 521h24.1v1h-24.1zM1876 525.5h24.1v1h-24.1zM1876 534h24.1v2h-24.1zM1876 541h24.1v1h-24.1zM1876 571.5h24.1v1h-24.1zM1876 598h24.1v2h-24.1zM1971.8 374.5h24.1v1.5h-24.1zM1971.8 379h24.1v2.5h-24.1zM1971.8 381.5h24.1v2.5h-24.1zM1971.8 384h24.1v2h-24.1zM1971.8 386h24.1v1h-24.1zM1971.8 387h24.1v1.5h-24.1zM1971.8 388.5h24.1v2.5h-24.1zM1971.8 396h24.1v2.5h-24.1zM1971.8 402.5h24.1v1h-24.1zM1971.8 405h24.1v2.5h-24.1zM1971.8 407.5h24.1v3h-24.1zM1971.8 413.5h24.1v1.5h-24.1zM1971.8 416h24.1v2h-24.1zM1971.8 420.5h24.1v1.5h-24.1zM1971.8 423.5h24.1v2h-24.1zM1971.8 425.5h24.1v2.5h-24.1zM1971.8 434.5h24.1v2.5h-24.1zM1971.8 450.5h24.1v2h-24.1zM1971.8 457h24.1v2.5h-24.1zM1971.8 469.5h24.1v1.5h-24.1zM1971.8 474h24.1v3h-24.1zM1971.8 479h24.1v2h-24.1zM1971.8 484.5h24.1v2.5h-24.1zM1971.8 492.5h24.1v3h-24.1zM1971.8 504h24.1v1.5h-24.1zM1971.8 517.5h24.1v2.5h-24.1zM1971.8 523h24.1v1h-24.1zM1971.8 529h24.1v2h-24.1zM1971.8 534h24.1v3h-24.1zM1971.8 537h24.1v2.5h-24.1zM1971.8 557.5h24.1v3h-24.1zM1971.8 565.5h24.1v3h-24.1zM1971.8 576.5h24.1v1h-24.1zM1971.8 584h24.1v2h-24.1zM1971.8 597h24.1v2.5h-24.1zM1971.8 599.5h24.1v2.5h-24.1zM1971.8 610.5h24.1v1.5h-24.1zM1971.8 623h24.1v3h-24.1zM1971.8 630h24.1v1h-24.1zM1971.8 637h24.1v1h-24.1zM1971.8 641.5h24.1v1h-24.1zM1971.8 644.5h24.1v1h-24.1zM1971.8 650h24.1v3h-24.1zM1971.8 663h24.1v1.5h-24.1zM1971.8 669.5h24.1v2.5h-24.1zM1971.8 687.5h24.1v1h-24.1zM1971.8 691h24.1v3h-24.1zM1971.8 696.5h24.1v1.5h-24.1zM1971.8 703h24.1v3h-24.1zM1971.8 707.5h24.1v2h-24.1zM1971.8 712.5h24.1v2.5h-24.1zM1971.8 715h24.1v2.5h-24.1zM1971.8 725.5h24.1v1h-24.1zM1971.8 726.5h24.1v2.5h-24.1zM1971.8 733.5h24.1v1h-24.1zM1971.8 739.5h24.1v3h-24.1zM1971.8 747.5h24.1v1h-24.1zM1971.8 756.5h24.1v2.5h-24.1zM1971.8 766h24.1v1h-24.1zM1971.8 767h24.1v1h-24.1zM1971.8 777h24.1v2.5h-24.1zM1971.8 798.5h24.1v1.5h-24.1zM1971.8 802.5h24.1v1.5h-24.1zM1971.8 805.5h24.1v2.5h-24.1zM1971.8 808h24.1v1.5h-24.1zM1971.8 812.5h24.1v2.5h-24.1zM1971.8 823.5h24.1v3h-24.1zM1971.8 833h24.1v1.5h-24.1zM1971.8 838.5h24.1v1.5h-24.1zM1971.8 841h24.1v2h-24.1zM1971.8 854h24.1v1h-24.1zM1971.8 857h24.1v2h-24.1zM1971.8 861h24.1v1.5h-24.1zM1971.8 866h24.1v2h-24.1zM1971.8 868h24.1v1h-24.1zM1971.8 869h24.1v1h-24.1zM1971.8 871h24.1v1h-24.1zM1971.8 872h24.1v1h-24.1zM1971.8 878.5h24.1v1h-24.1zM1971.8 880.5h24.1v1h-24.1zM1971.8 883h24.1v1.5h-24.1zM1971.8 887h24.1v1h-24.1zM1971.8 894h24.1v1h-24.1zM1971.8 899.5h24.1v1h-24.1zM1971.8 902.5h24.1v2h-24.1zM1971.8 905.5h24.1v1h-24.1zM1971.8 906.5h24.1v1h-24.1zM1971.8 907.5h24.1v1h-24.1zM1971.8 908.5h24.1v1.5h-24.1zM1971.8 910h24.1v1h-24.1zM1971.8 913h24.1v1h-24.1zM2019.7 382.5h24.1v1h-24.1zM2019.7 383.5h24.1v2.5h-24.1zM2019.7 387.5h24.1v1h-24.1zM2019.7 391.5h24.1v3h-24.1zM2019.7 396.5h24.1v2.5h-24.1zM2019.7 399h24.1v3h-24.1zM2019.7 402h24.1v2h-24.1zM2019.7 406h24.1v1.5h-24.1zM2019.7 409h24.1v3h-24.1zM2019.7 417.5h24.1v2.5h-24.1z" fill="#396c32"/>
<path d="M1780.2 392h24.1v3h-24.1zM1780.2 395h24.1v2.5h-24.1zM1780.2 397.5h24.1v1h-24.1zM1780.2 398.5h24.1v1h-24.1zM1780.2 399.5h24.1v2h-24.1zM1780.2 401.5h24.1v1h-24.1zM1780.2 402.5h24.1v2.5h-24.1zM1780.2 410h24.1v1h-24.1zM1780.2 411h24.1v1.5h-24.1zM1780.2 419.5h24.1v2.5h-24.1zM1780.2 422h24.1v2.5h-24.1zM1780.2 427h24.1v2h-24.1zM1780.2 433.5h24.1v3h-24.1zM1780.2 438.5h24.1v1h-24.1zM1780.2 439.5h24.1v1.5h-24.1zM1780.2 442h24.1v1.5h-24.1zM1780.2 446.5h24.1v1.5h-24.1zM1780.2 448h24.1v1.5h-24.1zM1780.2 449.5h24.1v2h-24.1zM1780.2 451.5h24.1v3h-24.1zM1780.2 454.5h24.1v1h-24.1zM1780.2 458.5h24.1v3h-24.1zM1780.2 461.5h24.1v3h-24.1zM1780.2 468h24.1v2.5h-24.1zM1780.2 472.5h24.1v2h-24.1zM1780.2 478h24.1v2h-24.1zM1780.2 480h24.1v1.5h-24.1zM1780.2 481.5h24.1v2h-24.1zM1780.2 483.5h24.1v1h-24.1zM1780.2 498.5h24.1v1.5h-24.1zM1780.2 503.5h24.1v1.5h-24.1zM1780.2 505h24.1v1.5h-24.1zM1780.2 506.5h24.1v1.5h-24.1zM1780.2 508h24.1v1h-24.1zM1780.2 509h24.1v2h-24.1zM1780.2 514.5h24.1v1.5h-24.1zM1780.2 516h24.1v2h-24.1zM1780.2 518h24.1v2.5h-24.1zM1780.2 520.5h24.1v2.5h-24.1zM1780.2 526.5h24.1v1h-24.1zM1780.2 531.5h24.1v1.5h-24.1zM1780.2 533h24.1v1.5h-24.1zM1780.2 534.5h24.1v1.5h-24.1zM1780.2 536h24.1v2h-24.1zM1780.2 538h24.1v3h-24.1zM1780.2 541h24.1v2.5h-24.1zM1780.2 546h24.1v1h-24.1zM1780.2 547h24.1v1h-24.1zM1780.2 550.5h24.1v2.5h-24.1zM1780.2 553h24.1v3h-24.1zM1780.2 556h24.1v3h-24.1zM1780.2 559h24.1v3h-24.1zM1780.2 562h24.1v3h-24.1zM1780.2 566h24.1v3h-24.1zM1780.2 575.5h24.1v1.5h-24.1zM1780.2 584h24.1v3h-24.1zM1828.1 373h24.1v1h-24.1zM1828.1 374h24.1v2h-24.1zM1828.1 377.5h24.1v3h-24.1zM1828.1 380.5h24.1v1.5h-24.1zM1828.1 385h24.1v2.5h-24.1zM1828.1 390.5h24.1v1h-24.1zM1828.1 395h24.1v1.5h-24.1zM1828.1 396.5h24.1v2h-24.1zM1828.1 398.5h24.1v1.5h-24.1zM1828.1 404h24.1v3h-24.1zM1828.1 407h24.1v1.5h-24.1zM1828.1 413.5h24.1v1h-24.1zM1828.1 414.5h24.1v1h-24.1zM1828.1 415.5h24.1v1.5h-24.1zM1828.1 418h24.1v3h-24.1zM1828.1 456h24.1v2h-24.1zM1828.1 458h24.1v3h-24.1zM1828.1 461h24.1v3h-24.1zM1828.1 468.5h24.1v2.5h-24.1zM1828.1 472.5h24.1v1h-24.1zM1828.1 473.5h24.1v2.5h-24.1zM1828.1 485.5h24.1v1.5h-24.1zM1828.1 490h24.1v2.5h-24.1zM1828.1 494h24.1v3h-24.1zM1828.1 497h24.1v2h-24.1zM1828.1 503.5h24.1v2h-24.1zM1828.1 510.5h24.1v1h-24.1zM1828.1 516.5h24.1v1.5h-24.1zM1828.1 518h24.1v2h-24.1zM1828.1 525h24.1v1h-24.1zM1828.1 526h24.1v1.5h-24.1zM1828.1 527.5h24.1v2.5h-24.1zM1828.1 535.5h24.1v1.5h-24.1zM1828.1 537h24.1v1h-24.1zM1828.1 538h24.1v2.5h-24.1zM1828.1 540.5h24.1v1.5h-24.1zM1828.1 543.5h24.1v3h-24.1zM1828.1 546.5h24.1v3h-24.1zM1828.1 556h24.1v3h-24.1zM1828.1 563h24.1v3h-24.1zM1828.1 569h24.1v1.5h-24.1zM1828.1 573h24.1v2h-24.1zM1828.1 575h24.1v1h-24.1zM1828.1 576h24.1v1h-24.1zM1828.1 577h24.1v3h-24.1zM1828.1 585h24.1v1h-24.1zM1828.1 587.5h24.1v1h-24.1zM1828.1 593.5h24.1v1h-24.1zM1828.1 594.5h24.1v1h-24.1zM1828.1 595.5h24.1v3h-24.1zM1828.1 598.5h24.1v1.5h-24.1zM1828.1 600h24.1v3h-24.1zM1828.1 607h24.1v2h-24.1zM1828.1 614h24.1v2h-24.1zM1828.1 616h24.1v1h-24.1zM1828.1 625h24.1v1.5h-24.1zM1828.1 634.5h24.1v1.5h-24.1zM1828.1 646.5h24.1v3h-24.1zM1828.1 651h24.1v2.5h-24.1zM1828.1 653.5h24.1v1h-24.1zM1828.1 654.5h24.1v3h-24.1zM1828.1 657.5h24.1v2.5h-24.1zM1828.1 660h24.1v1h-24.1zM1828.1 669h24.1v1h-24.1zM1828.1 678h24.1v1h-24.1zM1828.1 679h24.1v1.5h-24.1zM1828.1 680.5h24.1v2h-24.1zM1828.1 682.5h24.1v1h-24.1zM1828.1 693.5h24.1v3h-24.1zM1828.1 698h24.1v3h-24.1zM1828.1 706.5h24.1v2.5h-24.1zM1828.1 711.5h24.1v1.5h-24.1zM1828.1 714.5h24.1v1.5h-24.1zM1828.1 721.5h24.1v2.5h-24.1zM1828.1 725.5h24.1v2h-24.1zM1828.1 742.5h24.1v3h-24.1zM1828.1 748.5h24.1v2h-24.1zM1828.1 759h24.1v2h-24.1zM1828.1 775.5h24.1v2h-24.1zM1828.1 784.5h24.1v3h-24.1zM1876 382.5h24.1v2h-24.1zM1876 388h24.1v1h-24.1zM1876 390h24.1v2h-24.1zM1876 392h24.1v1.5h-24.1zM1876 404h24.1v1.5h-24.1zM1876 410h24.1v2h-24.1zM1876 429h24.1v1h-24.1zM1876 430h24.1v1h-24.1zM1876 439.5h24.1v2h-24.1zM1876 455h24.1v1h-24.1zM1876 462.5h24.1v1h-24.1zM1876 472.5h24.1v1h-24.1zM1876 473.5h24.1v1h-24.1zM1876 498h24.1v2h-24.1zM1876 502h24.1v1.5h-24.1zM1876 507h24.1v1h-24.1zM1876 540h24.1v1h-24.1zM1876 546h24.1v2h-24.1zM1876 551.5h24.1v2h-24.1zM1876 560.5h24.1v1.5h-24.1zM1876 562h24.1v1h-24.1zM1876 565h24.1v1h-24.1zM1876 577.5h24.1v1.5h-24.1zM1876 594h24.1v2h-24.1zM1876 597h24.1v1h-24.1zM1876 600h24.1v2h-24.1zM1876 608h24.1v1h-24.1zM1876 609h24.1v1.5h-24.1zM1876 616.5h24.1v2h-24.1zM1971.8 373h24.1v1.5h-24.1zM1971.8 376h24.1v1h-24.1zM1971.8 377h24.1v2h-24.1zM1971.8 391h24.1v3h-24.1zM1971.8 394h24.1v2h-24.1zM1971.8 398.5h24.1v3h-24.1zM1971.8 401.5h24.1v1h-24.1zM1971.8 403.5h24.1v1.5h-24.1zM1971.8 410.5h24.1v1h-24.1zM1971.8 411.5h24.1v1h-24.1zM1971.8 412.5h24.1v1h-24.1zM1971.8 415h24.1v1h-24.1zM1971.8 418h24.1v2.5h-24.1zM1971.8 422h24.1v1.5h-24.1zM1971.8 428h24.1v3h-24.1zM1971.8 431h24.1v1h-24.1zM1971.8 432h24.1v2.5h-24.1zM1971.8 437h24.1v2h-24.1zM1971.8 439h24.1v3h-24.1zM1971.8 442h24.1v1h-24.1zM1971.8 443h24.1v3h-24.1zM1971.8 446h24.1v2.5h-24.1zM1971.8 448.5h24.1v1h-24.1zM1971.8 449.5h24.1v1h-24.1zM1971.8 452.5h24.1v3h-24.1zM1971.8 455.5h24.1v1.5h-24.1zM1971.8 459.5h24.1v2.5h-24.1zM1971.8 462h24.1v2h-24.1zM1971.8 464h24.1v2h-24.1zM1971.8 466h24.1v1.5h-24.1zM1971.8 467.5h24.1v2h-24.1zM1971.8 471h24.1v1h-24.1zM1971.8 472h24.1v2h-24.1zM1971.8 477h24.1v1h-24.1zM1971.8 478h24.1v1h-24.1zM1971.8 481h24.1v2.5h-24.1zM1971.8 483.5h24.1v1h-24.1zM1971.8 487h24.1v2.5h-24.1zM1971.8 489.5h24.1v3h-24.1zM1971.8 495.5h24.1v1h-24.1zM1971.8 496.5h24.1v3h-24.1zM1971.8 499.5h24.1v1.5h-24.1zM1971.8 501h24.1v3h-24.1zM1971.8 505.5h24.1v1.5h-24.1zM1971.8 507h24.1v3h-24.1zM1971.8 510h24.1v2h-24.1zM1971.8 512h24.1v3h-24.1zM1971.8 515h24.1v2.5h-24.1zM1971.8 520h24.1v3h-24.1zM1971.8 524h24.1v2.5h-24.1zM1971.8 526.5h24.1v2.5h-24.1zM1971.8 531h24.1v3h-24.1zM1971.8 539.5h24.1v3h-24.1zM1971.8 542.5h24.1v1.5h-24.1zM1971.8 544h24.1v2.5h-24.1zM1971.8 546.5h24.1v1.5h-24.1zM1971.8 548h24.1v2h-24.1zM1971.8 550h24.1v2.5h-24.1zM1971.8 552.5h24.1v1h-24.1zM1971.8 553.5h24.1v1.5h-24.1zM1971.8 555h24.1v2.5h-24.1zM1971.8 560.5h24.1v2h-24.1zM1971.8 562.5h24.1v2h-24.1zM1971.8 564.5h24.1v1h-24.1zM1971.8 568.5h24.1v2h-24.1zM1971.8 570.5h24.1v1h-24.1zM1971.8 571.5h24.1v1.5h-24.1zM1971.8 573h24.1v1.5h-24.1zM1971.8 574.5h24.1v2h-24.1zM1971.8 577.5h24.1v2h-24.1zM1971.8 579.5h24.1v1.5h-24.1zM1971.8 581h24.1v3h-24.1zM1971.8 586h24.1v1h-24.1zM1971.8 587h24.1v2.5h-24.1zM1971.8 589.5h24.1v1h-24.1zM1971.8 590.5h24.1v3h-24.1zM1971.8 593.5h24.1v1h-24.1zM1971.8 594.5h24.1v1h-24.1zM1971.8 595.5h24.1v1.5h-24.1zM1971.8 602h24.1v1.5h-24.1zM1971.8 603.5h24.1v2.5h-24.1zM1971.8 606h24.1v2h-24.1zM1971.8 608h24.1v1.5h-24.1zM1971.8 609.5h24.1v1h-24.1zM1971.8 612h24.1v3h-24.1zM1971.8 615h24.1v1.5h-24.1zM1971.8 616.5h24.1v2.5h-24.1zM1971.8 619h24.1v3h-24.1zM1971.8 622h24.1v1h-24.1zM1971.8 626h24.1v1.5h-24.1zM1971.8 627.5h24.1v2.5h-24.1zM1971.8 631h24.1v3h-24.1zM1971.8 634h24.1v1.5h-24.1zM1971.8 635.5h24.1v1.5h-24.1zM1971.8 638h24.1v1.5h-24.1zM1971.8 639.5h24.1v2h-24.1zM1971.8 642.5h24.1v1h-24.1zM1971.8 643.5h24.1v1h-24.1zM1971.8 645.5h24.1v2h-24.1zM1971.8 647.5h24.1v2.5h-24.1zM1971.8 653h24.1v2h-24.1zM1971.8 655h24.1v3h-24.1zM1971.8 658h24.1v1.5h-24.1zM1971.8 659.5h24.1v2.5h-24.1zM1971.8 662h24.1v1h-24.1zM1971.8 664.5h24.1v3h-24.1zM1971.8 667.5h24.1v2h-24.1zM1971.8 672h24.1v1h-24.1zM1971.8 673h24.1v2.5h-24.1zM1971.8 675.5h24.1v3h-24.1zM1971.8 678.5h24.1v1h-24.1zM1971.8 679.5h24.1v2.5h-24.1zM1971.8 682h24.1v2.5h-24.1zM1971.8 684.5h24.1v3h-24.1zM1971.8 688.5h24.1v2.5h-24.1zM1971.8 694h24.1v2.5h-24.1zM1971.8 698h24.1v3h-24.1zM1971.8 701h24.1v1h-24.1zM1971.8 702h24.1v1h-24.1zM1971.8 706h24.1v1.5h-24.1zM1971.8 709.5h24.1v3h-24.1zM1971.8 717.5h24.1v1h-24.1zM1971.8 718.5h24.1v1h-24.1zM1971.8 719.5h24.1v3h-24.1zM1971.8 722.5h24.1v3h-24.1zM1971.8 729h24.1v2.5h-24.1zM1971.8 731.5h24.1v2h-24.1zM1971.8 737.5h24.1v2h-24.1zM1971.8 751h24.1v1h-24.1zM1971.8 759h24.1v2h-24.1zM1971.8 768h24.1v2h-24.1zM1971.8 774.5h24.1v2.5h-24.1zM1971.8 787h24.1v2.5h-24.1zM1971.8 789.5h24.1v2h-24.1zM1971.8 793h24.1v1h-24.1zM1971.8 795.5h24.1v3h-24.1zM1971.8 800h24.1v2.5h-24.1zM1971.8 809.5h24.1v1h-24.1zM1971.8 818.5h24.1v2h-24.1zM1971.8 820.5h24.1v1h-24.1zM2019.7 380h24.1v1.5h-24.1zM2019.7 386h24.1v1.5h-24.1zM2019.7 388.5h24.1v3h-24.1zM2019.7 395.5h24.1v1h-24.1zM2019.7 404h24.1v2h-24.1zM2019.7 422.5h24.1v3h-24.1zM2019.7 427h24.1v3h-24.1z" fill="#3d7d38"/>
<rect x="1492.9" y="379.3" width="96" height="5.7" fill="#2d321b"/>
<rect x="1516.9" y="383" width="48.1" height="3" fill="#3a552b"/>
<rect x="1492.9" y="388" width="96" height="2.5" fill="#30451f"/>
<rect x="1588.7" y="372" width="72" height="20" fill="#2a2d1a"/>
<rect x="1612.7" y="385" width="24.1" height="4" fill="#384a28"/>
<rect x="1660.5" y="372" width="24.1" height="13" fill="#3a1a16"/>
<rect x="1660.5" y="376" width="24.1" height="2.5" fill="#5e201a"/>
<rect x="1660.5" y="380.5" width="24.1" height="2.5" fill="#5e201a"/>
<rect x="1684.5" y="372" width="72" height="20" fill="#2c3a1e"/>
<rect x="1684.5" y="373" width="72" height="4" fill="#3f6230"/>
<rect x="1684.5" y="378" width="72" height="2" fill="#7a2a1a"/>
<rect x="1684.5" y="381.5" width="72" height="3.5" fill="#3f6230"/>
<rect x="1684.5" y="387" width="72" height="3" fill="#3c5c2e"/>
<rect x="1756.3" y="372" width="24.1" height="9" fill="#5a1a18"/>
<rect x="1780.2" y="372" width="24.1" height="6.5" fill="#c43c18"/>
<rect x="1780.2" y="378.5" width="24.1" height="8" fill="#6e5826"/>
<rect x="1780.2" y="381" width="24.1" height="1.5" fill="#a04a20"/>
<rect x="1804.2" y="372" width="24.1" height="18" fill="#2e1a16"/>
<rect x="1804.2" y="373" width="24.1" height="3" fill="#4a1d19"/>
<rect x="1804.2" y="379" width="24.1" height="2.5" fill="#4a1d19"/>
<rect x="1804.2" y="384" width="24.1" height="2" fill="#3c1c18"/>
<rect x="1852.1" y="372" width="24.1" height="22" fill="#2c1c17"/>
<rect x="1852.1" y="373" width="24.1" height="3" fill="#421e19"/>
<rect x="1852.1" y="380" width="24.1" height="2" fill="#3a2a1a"/>
<rect x="1852.1" y="386" width="24.1" height="3" fill="#2f2c1a"/>
<rect x="1899.9" y="372" width="24.1" height="12.5" fill="#c0301c"/>
<rect x="1899.9" y="378" width="24.1" height="1.5" fill="#a02a1a"/>
<rect x="1899.9" y="384.5" width="24.1" height="7.5" fill="#2e2a1a"/>
<rect x="1923.9" y="372" width="24.1" height="4.5" fill="#5a1a18"/>
<rect x="1923.9" y="376.5" width="24.1" height="3.5" fill="#c8321a"/>
<rect x="1923.9" y="382" width="24.1" height="2" fill="#8a2418"/>
<rect x="1923.9" y="385.5" width="24.1" height="1.5" fill="#7a2018"/>
<rect x="1947.8" y="372" width="24.1" height="9" fill="#3a1a17"/>
<rect x="1947.8" y="381" width="24.1" height="11" fill="#2b2d1a"/>
<rect x="1995.7" y="372" width="24.1" height="6" fill="#5a1a18"/>
<rect x="2019.7" y="373" width="24.1" height="3" fill="#6a3a20"/>
<rect x="2019.7" y="378" width="24.1" height="5.5" fill="#c8321a"/>
<rect x="1469" y="372" width="24.1" height="17.4" fill="#c8281a"/>
<rect x="1492.9" y="372" width="24.1" height="5" fill="#c42a1a"/>
<rect x="1516.9" y="372" width="72" height="7.3" fill="#c42a1a"/>
<rect x="1995.7" y="434" width="24.1" height="1.5" fill="#3a6a30"/>
<rect x="1465.9" y="372" width="1.7" height="613.5" fill="#8a8a8a"/>
<rect x="2068.4" y="372" width="24" height="11.6" fill="#c6241c"/>
<rect x="2068.4" y="383.3" width="24" height="6" fill="#9c2420"/>
<rect x="2068.4" y="389" width="24" height="594" fill="#231815"/>
<rect x="2092.1" y="372" width="24" height="6.3" fill="#57b432"/>
<rect x="2092.1" y="378" width="24" height="3.3" fill="#4bb036"/>
<rect x="2092.1" y="381" width="24" height="4.5" fill="#57b432"/>
<rect x="2092.1" y="385.2" width="24" height="5.4" fill="#2ca83e"/>
<rect x="2092.1" y="390.3" width="24" height="38.8" fill="#1eaa3e"/>
<rect x="2092.1" y="428.8" width="24" height="158.5" fill="#04943e"/>
<rect x="2092.1" y="587" width="24" height="210.1" fill="#26803c"/>
<rect x="2092.1" y="796.8" width="24" height="122" fill="#3e5b29"/>
<rect x="2092.1" y="918.5" width="24" height="64.5" fill="#221c16"/>
<g font-size="21" class="gl" text-anchor="end">
<text transform="translate(71.9 996) rotate(-90)">agaS(K02082)</text>
<text transform="translate(96.8 996) rotate(-90)">agaF(K02744)</text>
<text transform="translate(122.4 996) rotate(-90)">agaV(K02745)</text>
<text transform="translate(148.1 996) rotate(-90)">agaW(K02746)</text>
<text transform="translate(173.7 996) rotate(-90)">agaE(K02747)</text>
<text transform="translate(195.6 996) rotate(-90)">omp(K02014)</text>
<text transform="translate(221.2 996) rotate(-90)">agaP(K02429)</text>
<text transform="translate(246.9 996) rotate(-90)">agaK(K00884)</text>
<text transform="translate(272.5 996) rotate(-90)">gnbA(K02793)</text>
<text transform="translate(297.4 996) rotate(-90)">gnbB(K02794)</text>
<text transform="translate(321.6 996) rotate(-90)">gnbC(K02795)</text>
<text transform="translate(346 996) rotate(-90)">gnbD(K02796)</text>
<text transform="translate(370.9 996) rotate(-90)">agaA(K02079)</text>
<text transform="translate(394.3 996) rotate(-90)">nagA(K01443)</text>
<text transform="translate(417 996) rotate(-90)">agaI(K02080)</text>
<text transform="translate(443.3 996) rotate(-90)">pfka(K00850)</text>
<text transform="translate(468.2 996) rotate(-90)">lacC(K00917)</text>
<text transform="translate(493.1 996) rotate(-90)">fruB(K00882)</text>
<text transform="translate(515.8 996) rotate(-90)">gatY(K08302)</text>
<text transform="translate(541.4 996) rotate(-90)">gatZ(K16371)</text>
<text transform="translate(564.8 996) rotate(-90)">lacD(K01635)</text>
<text transform="translate(588.2 996) rotate(-90)">fba(K01624)</text>
<text transform="translate(611.6 996) rotate(-90)">agaR(K02081)</text>
<text transform="translate(633.5 996) rotate(-90)">gntR(K03710)</text>
<text transform="translate(775.9 996) rotate(-90)">agaS(K02082)</text>
<text transform="translate(805 996) rotate(-90)">agaF(K02744)</text>
<text transform="translate(833.7 996) rotate(-90)">agaV(K02745)</text>
<text transform="translate(860.1 996) rotate(-90)">agaW(K02746)</text>
<text transform="translate(887.3 996) rotate(-90)">agaE(K02747)</text>
<text transform="translate(911.4 996) rotate(-90)">omp(K02014)</text>
<text transform="translate(937.8 996) rotate(-90)">agaP(K02429)</text>
<text transform="translate(963.5 996) rotate(-90)">agaK(K00884)</text>
<text transform="translate(989.1 996) rotate(-90)">gnbA(K02793)</text>
<text transform="translate(1013.2 996) rotate(-90)">gnbB(K02794)</text>
<text transform="translate(1037.4 996) rotate(-90)">gnbC(K02795)</text>
<text transform="translate(1062.2 996) rotate(-90)">gnbD(K02796)</text>
<text transform="translate(1087.7 996) rotate(-90)">agaA(K02079)</text>
<text transform="translate(1110.4 996) rotate(-90)">nagA(K01443)</text>
<text transform="translate(1132.7 996) rotate(-90)">agaI(K02080)</text>
<text transform="translate(1158.6 996) rotate(-90)">pfka(K00850)</text>
<text transform="translate(1183.5 996) rotate(-90)">lacC(K00917)</text>
<text transform="translate(1208.4 996) rotate(-90)">fruB(K00882)</text>
<text transform="translate(1231.8 996) rotate(-90)">gatY(K08302)</text>
<text transform="translate(1256.7 996) rotate(-90)">gatZ(K16371)</text>
<text transform="translate(1280.1 996) rotate(-90)">lacD(K01635)</text>
<text transform="translate(1303.5 996) rotate(-90)">fba(K01624)</text>
<text transform="translate(1326.9 996) rotate(-90)">agaR(K02081)</text>
<text transform="translate(1349.5 996) rotate(-90)">gntR(K03710)</text>
<text transform="translate(1476.4 1003.5) rotate(-90)">agaS(K02082)</text>
<text transform="translate(1505.5 1003.5) rotate(-90)">agaF(K02744)</text>
<text transform="translate(1534.2 1003.5) rotate(-90)">agaV(K02745)</text>
<text transform="translate(1560.6 1003.5) rotate(-90)">agaW(K02746)</text>
<text transform="translate(1587.8 1003.5) rotate(-90)">agaE(K02747)</text>
<text transform="translate(1611.9 1003.5) rotate(-90)">omp(K02014)</text>
<text transform="translate(1638.3 1003.5) rotate(-90)">agaP(K02429)</text>
<text transform="translate(1664 1003.5) rotate(-90)">agaK(K00884)</text>
<text transform="translate(1689.6 1003.5) rotate(-90)">gnbA(K02793)</text>
<text transform="translate(1713.7 1003.5) rotate(-90)">gnbB(K02794)</text>
<text transform="translate(1737.9 1003.5) rotate(-90)">gnbC(K02795)</text>
<text transform="translate(1762.7 1003.5) rotate(-90)">gnbD(K02796)</text>
<text transform="translate(1788.2 1003.5) rotate(-90)">agaA(K02079)</text>
<text transform="translate(1810.9 1003.5) rotate(-90)">nagA(K01443)</text>
<text transform="translate(1833.2 1003.5) rotate(-90)">agaI(K02080)</text>
<text transform="translate(1859.1 1003.5) rotate(-90)">pfka(K00850)</text>
<text transform="translate(1884 1003.5) rotate(-90)">lacC(K00917)</text>
<text transform="translate(1908.9 1003.5) rotate(-90)">fruB(K00882)</text>
<text transform="translate(1932.3 1003.5) rotate(-90)">gatY(K08302)</text>
<text transform="translate(1957.2 1003.5) rotate(-90)">gatZ(K16371)</text>
<text transform="translate(1980.6 1003.5) rotate(-90)">lacD(K01635)</text>
<text transform="translate(2004 1003.5) rotate(-90)">fba(K01624)</text>
<text transform="translate(2027.4 1003.5) rotate(-90)">agaR(K02081)</text>
<text transform="translate(2050 1003.5) rotate(-90)">gntR(K03710)</text>
</g>
<g font-size="22.1" class="gl" text-anchor="end">
<text transform="translate(669.6 999) rotate(-90)">GalNAc regulon</text>
<text transform="translate(700.2 999) rotate(-90)">GalNAc pathway</text>
<text transform="translate(1384.3 999) rotate(-90)">GalNAc regulon</text>
<text transform="translate(1414.8 999) rotate(-90)">GalNAc pathway</text>
<text transform="translate(2085.5 1006.5) rotate(-90)">GalNAc regulon</text>
<text transform="translate(2114.7 1006.5) rotate(-90)">GalNAc pathway</text>
</g>
<path d="M84.9 1164.5H173.1M185 1164.5H248.5M264.8 1164.5H346.9M363.9 1164.5H395.5M433.5 1164.5H496.3M506.4 1164.5H587.2M600.8 1164.5H635.4" stroke="#1d1512" stroke-width="3.2" fill="none"/>
<path d="M62.8 1164.2V1236.5M380.9 1167V1241.5M619.5 1167V1240" stroke="#1d1512" stroke-width="2.6" fill="none"/>
<text x="75.8" y="1201.8" font-size="23.2" font-weight="bold">AgaPTS</text>
<text x="184.6" y="1196.7" font-size="23.2" font-weight="bold">TonB</text>
<text x="255.5" y="1202.5" font-size="23.2" font-weight="bold">GnbPTS</text>
<text x="421" y="1199.1" font-size="23.2" font-weight="bold">Kinase</text>
<text x="508" y="1199.1" font-size="23.2" font-weight="bold">Aldolase</text>
<text x="32.2" y="1259.2" font-size="23.4" font-weight="bold">Deaminase/Isomerase</text>
<text x="310.6" y="1258.5" font-size="23.4" font-weight="bold">Deacetylase</text>
<text x="545.5" y="1258.5" font-size="23.4" font-weight="bold">Repressor</text>
<path d="M800.8 1164.5H888.7M899.9 1164.5H965.1M980.4 1164.5H1063.5M1079.1 1164.5H1111.4M1148.4 1164.5H1212.2M1222.4 1164.5H1303.2M1316.4 1164.5H1352" stroke="#1d1512" stroke-width="3.2" fill="none"/>
<path d="M773.6 1164.2V1236.5M1096.1 1167V1240M1335.4 1167V1240" stroke="#1d1512" stroke-width="2.6" fill="none"/>
<text x="791.7" y="1201.8" font-size="23.2" font-weight="bold">AgaPTS</text>
<text x="899.5" y="1196.7" font-size="23.2" font-weight="bold">TonB</text>
<text x="971.1" y="1202.5" font-size="23.2" font-weight="bold">GnbPTS</text>
<text x="1136.6" y="1199.1" font-size="23.2" font-weight="bold">Kinase</text>
<text x="1224" y="1199.1" font-size="23.2" font-weight="bold">Aldolase</text>
<text x="736" y="1259.2" font-size="23.4" font-weight="bold">Deaminase/Isomerase</text>
<text x="1025.5" y="1258.5" font-size="23.4" font-weight="bold">Deacetylase</text>
<text x="1267.5" y="1258.5" font-size="23.4" font-weight="bold">Repressor</text>
<path d="M1500.5 1166.9H1589.4M1600.6 1166.9H1665.1M1680 1166.9H1763.5M1779.5 1166.9H1812.4M1848.4 1166.9H1912.5M1922.7 1166.9H2004.2M2017.1 1166.9H2052.7" stroke="#1d1512" stroke-width="3.2" fill="none"/>
<path d="M1474 1166.9V1239.9M1796.4 1169.5V1243.3M2035.8 1169.5V1243.3" stroke="#1d1512" stroke-width="2.6" fill="none"/>
<text x="1492" y="1204.2" font-size="23.2" font-weight="bold">AgaPTS</text>
<text x="1600.2" y="1203.5" font-size="23.2" font-weight="bold">TonB</text>
<text x="1670.7" y="1205" font-size="23.2" font-weight="bold">GnbPTS</text>
<text x="1837.3" y="1201.8" font-size="23.2" font-weight="bold">Kinase</text>
<text x="1924.3" y="1201.8" font-size="23.2" font-weight="bold">Aldolase</text>
<text x="1440.7" y="1261.9" font-size="23.4" font-weight="bold">Deaminase/Isomerase</text>
<text x="1725.8" y="1261.9" font-size="23.4" font-weight="bold">Deacetylase</text>
<text x="1967.9" y="1261.9" font-size="23.4" font-weight="bold">Repressor</text>
</svg>
</body></html>
